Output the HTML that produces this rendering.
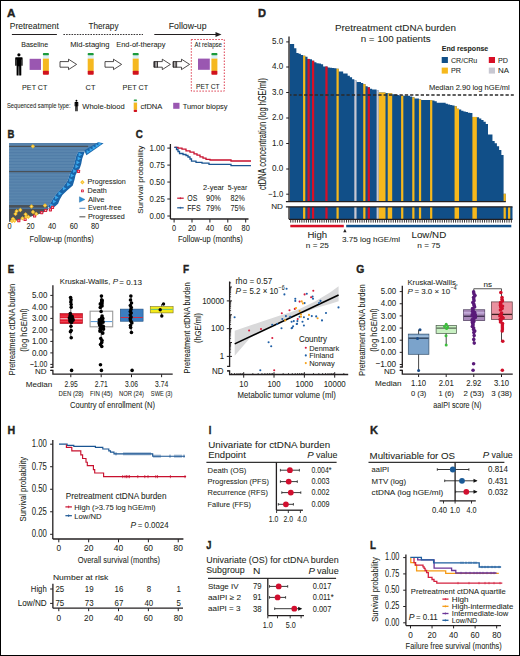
<!DOCTYPE html>
<html><head><meta charset="utf-8"><style>
html,body{margin:0;padding:0;background:#fff;width:520px;height:656px;overflow:hidden}
svg{display:block;font-family:"Liberation Sans",sans-serif}
text{stroke:#231f20;stroke-width:0.06px}
</style></head><body>
<svg width="520" height="656" viewBox="0 0 520 656" fill="#231f20">
<rect x="0" y="0" width="520" height="656" fill="#fff"/>
<text x="7.00" y="16.50" font-size="11.60" textLength="8.40" lengthAdjust="spacingAndGlyphs" font-weight="bold" style="stroke-width:0.4px" >A</text>
<text x="9.75" y="29.00" font-size="8.20" textLength="49.00" lengthAdjust="spacingAndGlyphs" >Pretreatment</text>
<line x1="11.90" y1="34.50" x2="56.90" y2="34.50" stroke="#231f20" stroke-width="1" />
<text x="88.50" y="29.00" font-size="8.20" textLength="30.00" lengthAdjust="spacingAndGlyphs" >Therapy</text>
<line x1="63.40" y1="34.50" x2="143.00" y2="34.50" stroke="#231f20" stroke-width="0.9" stroke-dasharray="1.6,1.1"/>
<text x="168.80" y="29.20" font-size="8.20" textLength="37.70" lengthAdjust="spacingAndGlyphs" >Follow-up</text>
<line x1="154.30" y1="34.50" x2="217.00" y2="34.50" stroke="#231f20" stroke-width="1" />
<path d="M215.5,32 L221.5,34.5 L215.5,37 Z" fill="#231f20" stroke="none" stroke-width="1" />
<text x="21.25" y="46.90" font-size="7.00" textLength="26.90" lengthAdjust="spacingAndGlyphs" >Baseline</text>
<text x="70.20" y="47.00" font-size="7.00" textLength="39.30" lengthAdjust="spacingAndGlyphs" >Mid-staging</text>
<text x="116.20" y="47.30" font-size="7.00" textLength="49.20" lengthAdjust="spacingAndGlyphs" >End-of-therapy</text>
<rect x="191.3" y="39.5" width="33" height="51.6" fill="none" stroke="#d9283c" stroke-width="0.9" stroke-dasharray="1.5,1.5"/>
<text x="194.60" y="47.30" font-size="7.00" textLength="27.40" lengthAdjust="spacingAndGlyphs" >At relapse</text>
<g transform="translate(14.6,53.2) scale(1.0)" fill="#000"><circle cx="4.3" cy="1.6" r="1.6"/><path d="M0.6,4.6 Q0.6,4 1.4,4 L7.2,4 Q8,4 8,4.6 L8,12.2 Q8,12.6 7.4,12.6 Q6.9,12.6 6.9,12.2 L6.9,6.2 L6.7,6.2 L6.7,21.9 Q6.7,22.4 6,22.4 L4.6,22.4 L4.5,13 L4.1,13 L4,22.4 L2.6,22.4 Q2,22.4 2,21.9 L2,6.2 L1.8,6.2 L1.8,12.2 Q1.8,12.6 1.2,12.6 Q0.6,12.6 0.6,12.2 Z"/></g>
<rect x="29.60" y="58.80" width="11.40" height="11.10" fill="#9a57b1" />
<rect x="42.90" y="53.00" width="6.00" height="2.60" fill="#1b9a3c" rx="0.8"/>
<rect x="42.90" y="55.60" width="6.00" height="3.00" fill="#d8eef7" />
<rect x="42.90" y="58.60" width="6.00" height="12.30" fill="#f5b820" />
<rect x="42.90" y="70.80" width="6.00" height="3.90" fill="#d1121c" rx="0.8"/>
<rect x="87.70" y="53.00" width="6.00" height="2.60" fill="#1b9a3c" rx="0.8"/>
<rect x="87.70" y="55.60" width="6.00" height="3.00" fill="#d8eef7" />
<rect x="87.70" y="58.60" width="6.00" height="12.30" fill="#f5b820" />
<rect x="87.70" y="70.80" width="6.00" height="3.90" fill="#d1121c" rx="0.8"/>
<rect x="132.70" y="53.00" width="6.00" height="2.60" fill="#1b9a3c" rx="0.8"/>
<rect x="132.70" y="55.60" width="6.00" height="3.00" fill="#d8eef7" />
<rect x="132.70" y="58.60" width="6.00" height="12.30" fill="#f5b820" />
<rect x="132.70" y="70.80" width="6.00" height="3.90" fill="#d1121c" rx="0.8"/>
<rect x="211.40" y="53.00" width="6.00" height="2.60" fill="#1b9a3c" rx="0.8"/>
<rect x="211.40" y="55.60" width="6.00" height="3.00" fill="#d8eef7" />
<rect x="211.40" y="58.60" width="6.00" height="12.30" fill="#f5b820" />
<rect x="211.40" y="70.80" width="6.00" height="3.90" fill="#d1121c" rx="0.8"/>
<rect x="198.00" y="58.60" width="11.80" height="11.20" fill="#9a57b1" />
<path d="M60.00,61.6 L68.50,61.6 L68.50,59.2 L76.60,64.4 L68.50,69.6 L68.50,67.2 L60.00,67.2 Z" fill="#fff" stroke="#231f20" stroke-width="0.8" />
<path d="M105.00,61.6 L113.50,61.6 L113.50,59.2 L121.60,64.4 L113.50,69.6 L113.50,67.2 L105.00,67.2 Z" fill="#fff" stroke="#231f20" stroke-width="0.8" />
<path d="M153.80,61.6 L162.30,61.6 L162.30,59.2 L170.40,64.4 L162.30,69.6 L162.30,67.2 L153.80,67.2 Z" fill="#fff" stroke="#231f20" stroke-width="0.8" />
<rect x="154.00" y="61.30" width="0.90" height="6.20" fill="#231f20" />
<rect x="155.50" y="61.30" width="0.90" height="6.20" fill="#231f20" />
<rect x="157.00" y="61.30" width="0.90" height="6.20" fill="#231f20" />
<path d="M173.00,61.6 L181.50,61.6 L181.50,59.2 L189.60,64.4 L181.50,69.6 L181.50,67.2 L173.00,67.2 Z" fill="#fff" stroke="#231f20" stroke-width="0.8" />
<rect x="173.20" y="61.30" width="0.90" height="6.20" fill="#231f20" />
<rect x="174.70" y="61.30" width="0.90" height="6.20" fill="#231f20" />
<rect x="176.20" y="61.30" width="0.90" height="6.20" fill="#231f20" />
<text x="22.10" y="89.50" font-size="8.00" textLength="25.30" lengthAdjust="spacingAndGlyphs" >PET CT</text>
<text x="85.60" y="89.50" font-size="8.00" textLength="9.80" lengthAdjust="spacingAndGlyphs" >CT</text>
<text x="122.60" y="89.50" font-size="8.00" textLength="25.50" lengthAdjust="spacingAndGlyphs" >PET CT</text>
<text x="196.00" y="89.30" font-size="8.00" textLength="23.60" lengthAdjust="spacingAndGlyphs" >PET CT</text>
<text x="6.90" y="107.60" font-size="7.00" textLength="63.70" lengthAdjust="spacingAndGlyphs" >Sequenced sample type:</text>
<g transform="translate(74.3,100.0) scale(0.5)" fill="#000"><circle cx="4.3" cy="1.6" r="1.9"/><path d="M0.6,4.6 Q0.6,4 1.4,4 L7.2,4 Q8,4 8,4.6 L8,12.2 Q8,12.6 7.4,12.6 Q6.9,12.6 6.9,12.2 L6.9,6.2 L6.7,6.2 L6.7,21.9 Q6.7,22.4 6,22.4 L4.6,22.4 L4.5,13 L4.1,13 L4,22.4 L2.6,22.4 Q2,22.4 2,21.9 L2,6.2 L1.8,6.2 L1.8,12.2 Q1.8,12.6 1.2,12.6 Q0.6,12.6 0.6,12.2 Z"/></g>
<text x="82.25" y="108.70" font-size="8.00" textLength="42.50" lengthAdjust="spacingAndGlyphs" >Whole-blood</text>
<rect x="133.70" y="99.40" width="3.40" height="1.51" fill="#1b9a3c" rx="0.8"/>
<rect x="133.70" y="100.91" width="3.40" height="1.74" fill="#d8eef7" />
<rect x="133.70" y="102.65" width="3.40" height="7.13" fill="#f5b820" />
<rect x="133.70" y="109.72" width="3.40" height="2.26" fill="#d1121c" rx="0.8"/>
<text x="140.50" y="108.70" font-size="8.00" textLength="21.90" lengthAdjust="spacingAndGlyphs" >cfDNA</text>
<rect x="173.20" y="102.80" width="6.30" height="6.00" fill="#9a57b1" />
<text x="182.70" y="108.50" font-size="8.00" textLength="44.90" lengthAdjust="spacingAndGlyphs" >Tumor biopsy</text>
<text x="258.00" y="16.50" font-size="11.60" textLength="8.00" lengthAdjust="spacingAndGlyphs" font-weight="bold" style="stroke-width:0.4px" >D</text>
<text x="395.50" y="30.60" font-size="9.60" text-anchor="middle" textLength="121.00" lengthAdjust="spacingAndGlyphs" >Pretreatment ctDNA burden</text>
<text x="395.70" y="41.70" font-size="9.60" text-anchor="middle" textLength="70.00" lengthAdjust="spacingAndGlyphs" >n = 100 patients</text>
<text x="441.70" y="51.40" font-size="7.40" textLength="46.60" lengthAdjust="spacingAndGlyphs" font-weight="bold" >End response</text>
<rect x="441.70" y="57.00" width="6.20" height="6.00" fill="#114f88" />
<text x="451.00" y="62.60" font-size="7.60" textLength="26.30" lengthAdjust="spacingAndGlyphs" >CR/CRu</text>
<rect x="488.80" y="57.00" width="6.20" height="6.00" fill="#d80f26" />
<text x="498.00" y="62.60" font-size="7.60" textLength="10.00" lengthAdjust="spacingAndGlyphs" >PD</text>
<rect x="441.70" y="67.60" width="6.20" height="6.00" fill="#f6b81c" />
<text x="451.00" y="73.20" font-size="7.60" textLength="10.00" lengthAdjust="spacingAndGlyphs" >PR</text>
<rect x="488.80" y="67.60" width="6.20" height="6.00" fill="#c8c8d2" />
<text x="498.00" y="73.20" font-size="7.60" textLength="11.00" lengthAdjust="spacingAndGlyphs" >NA</text>
<path d="M289.70,201.60 L289.70,44.00 L291.93,44.00 L291.93,44.00 L294.16,44.00 L294.16,48.20 L296.38,48.20 L296.38,53.00 L298.61,53.00 L298.61,53.80 L300.84,53.80 L300.84,54.90 L303.07,54.90 L303.07,55.70 L305.30,55.70 L305.30,56.80 L307.52,56.80 L307.52,58.90 L309.75,58.90 L309.75,59.20 L311.98,59.20 L311.98,60.70 L314.21,60.70 L314.21,62.20 L316.44,62.20 L316.44,63.20 L318.66,63.20 L318.66,63.40 L320.89,63.40 L320.89,64.20 L323.12,64.20 L323.12,66.50 L325.35,66.50 L325.35,66.50 L327.58,66.50 L327.58,67.60 L329.80,67.60 L329.80,67.80 L332.03,67.80 L332.03,68.00 L334.26,68.00 L334.26,68.30 L336.49,68.30 L336.49,68.70 L338.72,68.70 L338.72,71.50 L340.94,71.50 L340.94,71.50 L343.17,71.50 L343.17,73.50 L345.40,73.50 L345.40,73.50 L347.63,73.50 L347.63,75.80 L349.86,75.80 L349.86,77.30 L352.08,77.30 L352.08,79.20 L354.31,79.20 L354.31,80.40 L356.54,80.40 L356.54,81.90 L358.77,81.90 L358.77,81.90 L361.00,81.90 L361.00,83.10 L363.22,83.10 L363.22,84.10 L365.45,84.10 L365.45,86.20 L367.68,86.20 L367.68,87.30 L369.91,87.30 L369.91,88.80 L372.14,88.80 L372.14,89.60 L374.36,89.60 L374.36,89.60 L376.59,89.60 L376.59,90.40 L378.82,90.40 L378.82,92.50 L381.05,92.50 L381.05,92.50 L383.28,92.50 L383.28,92.50 L385.50,92.50 L385.50,93.10 L387.73,93.10 L387.73,93.30 L389.96,93.30 L389.96,93.30 L392.19,93.30 L392.19,94.20 L394.42,94.20 L394.42,94.50 L396.64,94.50 L396.64,95.00 L398.87,95.00 L398.87,95.40 L401.10,95.40 L401.10,95.60 L403.33,95.60 L403.33,95.80 L405.56,95.80 L405.56,95.80 L407.78,95.80 L407.78,95.80 L410.01,95.80 L410.01,96.50 L412.24,96.50 L412.24,97.30 L414.47,97.30 L414.47,98.50 L416.70,98.50 L416.70,98.50 L418.92,98.50 L418.92,99.60 L421.15,99.60 L421.15,100.00 L423.38,100.00 L423.38,100.00 L425.61,100.00 L425.61,100.00 L427.84,100.00 L427.84,100.00 L430.06,100.00 L430.06,100.20 L432.29,100.20 L432.29,100.40 L434.52,100.40 L434.52,101.20 L436.75,101.20 L436.75,102.70 L438.98,102.70 L438.98,102.70 L441.20,102.70 L441.20,102.70 L443.43,102.70 L443.43,102.70 L445.66,102.70 L445.66,103.80 L447.89,103.80 L447.89,104.40 L450.12,104.40 L450.12,105.00 L452.34,105.00 L452.34,105.50 L454.57,105.50 L454.57,106.20 L456.80,106.20 L456.80,108.80 L459.03,108.80 L459.03,109.60 L461.26,109.60 L461.26,110.80 L463.48,110.80 L463.48,111.50 L465.71,111.50 L465.71,112.10 L467.94,112.10 L467.94,112.70 L470.17,112.70 L470.17,113.00 L472.40,113.00 L472.40,116.90 L474.62,116.90 L474.62,116.90 L476.85,116.90 L476.85,117.30 L479.08,117.30 L479.08,118.40 L481.31,118.40 L481.31,119.90 L483.54,119.90 L483.54,121.80 L485.76,121.80 L485.76,124.10 L487.99,124.10 L487.99,134.40 L490.22,134.40 L490.22,134.40 L492.45,134.40 L492.45,140.90 L494.68,140.90 L494.68,143.20 L496.90,143.20 L496.90,146.30 L499.13,146.30 L499.13,150.10 L501.36,150.10 L501.36,155.00 L503.59,155.00 L503.59,193.80 L505.82,193.80 L505.82,201.60 Z" fill="#114f88" stroke="none" stroke-width="1" />
<rect x="289.70" y="206.80" width="222.80" height="12.50" fill="#114f88" />
<path d="M303.07,201.60 L303.07,55.70 L305.30,55.70 L305.30,201.60 Z" fill="#f6b81c" stroke="none" stroke-width="1" />
<rect x="303.07" y="206.80" width="2.23" height="12.50" fill="#f6b81c" />
<path d="M307.52,201.60 L307.52,58.90 L309.75,58.90 L309.75,201.60 Z" fill="#d80f26" stroke="none" stroke-width="1" />
<rect x="307.52" y="206.80" width="2.23" height="12.50" fill="#d80f26" />
<path d="M311.98,201.60 L311.98,60.70 L314.21,60.70 L314.21,201.60 Z" fill="#d80f26" stroke="none" stroke-width="1" />
<rect x="311.98" y="206.80" width="2.23" height="12.50" fill="#d80f26" />
<path d="M325.35,201.60 L325.35,66.50 L327.58,66.50 L327.58,201.60 Z" fill="#d80f26" stroke="none" stroke-width="1" />
<rect x="325.35" y="206.80" width="2.23" height="12.50" fill="#d80f26" />
<path d="M336.49,201.60 L336.49,68.70 L338.72,68.70 L338.72,201.60 Z" fill="#f6b81c" stroke="none" stroke-width="1" />
<rect x="336.49" y="206.80" width="2.23" height="12.50" fill="#f6b81c" />
<path d="M354.31,201.60 L354.31,80.40 L356.54,80.40 L356.54,201.60 Z" fill="#c8c8d2" stroke="none" stroke-width="1" />
<rect x="354.31" y="206.80" width="2.23" height="12.50" fill="#c8c8d2" />
<path d="M363.22,201.60 L363.22,84.10 L365.45,84.10 L365.45,201.60 Z" fill="#f6b81c" stroke="none" stroke-width="1" />
<rect x="363.22" y="206.80" width="2.23" height="12.50" fill="#f6b81c" />
<path d="M367.68,201.60 L367.68,87.30 L369.91,87.30 L369.91,201.60 Z" fill="#d80f26" stroke="none" stroke-width="1" />
<rect x="367.68" y="206.80" width="2.23" height="12.50" fill="#d80f26" />
<path d="M376.59,201.60 L376.59,90.40 L378.82,90.40 L378.82,201.60 Z" fill="#c8c8d2" stroke="none" stroke-width="1" />
<rect x="376.59" y="206.80" width="2.23" height="12.50" fill="#c8c8d2" />
<path d="M378.82,201.60 L378.82,92.50 L381.05,92.50 L381.05,92.50 L383.28,92.50 L383.28,92.50 L385.50,92.50 L385.50,201.60 Z" fill="#f6b81c" stroke="none" stroke-width="1" />
<rect x="378.82" y="206.80" width="6.68" height="12.50" fill="#f6b81c" />
<path d="M387.73,201.60 L387.73,93.30 L389.96,93.30 L389.96,93.30 L392.19,93.30 L392.19,201.60 Z" fill="#f6b81c" stroke="none" stroke-width="1" />
<rect x="387.73" y="206.80" width="4.46" height="12.50" fill="#f6b81c" />
<path d="M401.10,201.60 L401.10,95.60 L403.33,95.60 L403.33,201.60 Z" fill="#f6b81c" stroke="none" stroke-width="1" />
<rect x="401.10" y="206.80" width="2.23" height="12.50" fill="#f6b81c" />
<path d="M412.24,201.60 L412.24,97.30 L414.47,97.30 L414.47,201.60 Z" fill="#f6b81c" stroke="none" stroke-width="1" />
<rect x="412.24" y="206.80" width="2.23" height="12.50" fill="#f6b81c" />
<path d="M418.92,201.60 L418.92,99.60 L421.15,99.60 L421.15,201.60 Z" fill="#f6b81c" stroke="none" stroke-width="1" />
<rect x="418.92" y="206.80" width="2.23" height="12.50" fill="#f6b81c" />
<path d="M430.06,201.60 L430.06,100.20 L432.29,100.20 L432.29,201.60 Z" fill="#f6b81c" stroke="none" stroke-width="1" />
<rect x="430.06" y="206.80" width="2.23" height="12.50" fill="#f6b81c" />
<path d="M454.57,201.60 L454.57,106.20 L456.80,106.20 L456.80,108.80 L459.03,108.80 L459.03,201.60 Z" fill="#f6b81c" stroke="none" stroke-width="1" />
<rect x="454.57" y="206.80" width="4.46" height="12.50" fill="#f6b81c" />
<path d="M472.40,201.60 L472.40,116.90 L474.62,116.90 L474.62,116.90 L476.85,116.90 L476.85,201.60 Z" fill="#f6b81c" stroke="none" stroke-width="1" />
<rect x="472.40" y="206.80" width="4.46" height="12.50" fill="#f6b81c" />
<path d="M503.59,201.60 L503.59,193.80 L505.82,193.80 L505.82,201.60 Z" fill="#f6b81c" stroke="none" stroke-width="1" />
<rect x="503.59" y="206.80" width="2.23" height="12.50" fill="#f6b81c" />
<rect x="508.04" y="206.80" width="2.23" height="12.50" fill="#f6b81c" />
<line x1="290.00" y1="95.00" x2="513.80" y2="95.00" stroke="#2a2a2a" stroke-width="1.5" stroke-dasharray="3.3,2.0" stroke-dashoffset="1.8"/>
<text x="509.70" y="89.50" font-size="7.60" text-anchor="end" textLength="80.80" lengthAdjust="spacingAndGlyphs" >Median 2.90 log hGE/ml</text>
<line x1="289.00" y1="36.40" x2="289.00" y2="201.60" stroke="#231f20" stroke-width="1.3" />
<line x1="285.90" y1="201.60" x2="505.80" y2="201.60" stroke="#231f20" stroke-width="1.3" />
<line x1="285.90" y1="206.80" x2="512.50" y2="206.80" stroke="#231f20" stroke-width="1.3" />
<line x1="289.00" y1="206.80" x2="289.00" y2="219.30" stroke="#231f20" stroke-width="1.3" />
<line x1="289.00" y1="219.30" x2="512.50" y2="219.30" stroke="#231f20" stroke-width="1.3" />
<line x1="286.20" y1="41.90" x2="289.00" y2="41.90" stroke="#231f20" stroke-width="1" />
<text x="283.20" y="44.30" font-size="8.97" text-anchor="end" textLength="11.20" lengthAdjust="spacingAndGlyphs" >5.0</text>
<line x1="286.20" y1="67.00" x2="289.00" y2="67.00" stroke="#231f20" stroke-width="1" />
<text x="283.20" y="69.40" font-size="8.97" text-anchor="end" textLength="11.20" lengthAdjust="spacingAndGlyphs" >4.0</text>
<line x1="286.20" y1="92.50" x2="289.00" y2="92.50" stroke="#231f20" stroke-width="1" />
<text x="283.20" y="94.90" font-size="8.97" text-anchor="end" textLength="11.20" lengthAdjust="spacingAndGlyphs" >3.0</text>
<line x1="286.20" y1="118.00" x2="289.00" y2="118.00" stroke="#231f20" stroke-width="1" />
<text x="283.20" y="120.40" font-size="8.97" text-anchor="end" textLength="11.20" lengthAdjust="spacingAndGlyphs" >2.0</text>
<line x1="286.20" y1="143.50" x2="289.00" y2="143.50" stroke="#231f20" stroke-width="1" />
<text x="283.20" y="145.90" font-size="8.97" text-anchor="end" textLength="11.20" lengthAdjust="spacingAndGlyphs" >1.0</text>
<line x1="286.20" y1="169.00" x2="289.00" y2="169.00" stroke="#231f20" stroke-width="1" />
<text x="283.20" y="171.40" font-size="8.97" text-anchor="end" textLength="11.20" lengthAdjust="spacingAndGlyphs" >0.0</text>
<line x1="286.20" y1="194.20" x2="289.00" y2="194.20" stroke="#231f20" stroke-width="1" />
<text x="283.20" y="196.60" font-size="8.97" text-anchor="end" textLength="15.10" lengthAdjust="spacingAndGlyphs" >−1.0</text>
<text x="283.00" y="209.00" font-size="7.60" text-anchor="end" textLength="11.80" lengthAdjust="spacingAndGlyphs" >ND</text>
<text x="266.00" y="134.00" font-size="10.20" text-anchor="middle" textLength="112.00" lengthAdjust="spacingAndGlyphs" transform="rotate(-90 266.00 134.00)" >ctDNA concentration (log hGE/ml)</text>
<rect x="290.30" y="219.60" width="0.90" height="3.00" fill="#231f20" />
<rect x="292.53" y="219.60" width="0.90" height="3.00" fill="#231f20" />
<rect x="294.76" y="219.60" width="0.90" height="3.00" fill="#231f20" />
<rect x="296.98" y="219.60" width="0.90" height="3.00" fill="#231f20" />
<rect x="299.21" y="219.60" width="0.90" height="3.00" fill="#231f20" />
<rect x="301.44" y="219.60" width="0.90" height="3.00" fill="#231f20" />
<rect x="303.67" y="219.60" width="0.90" height="3.00" fill="#231f20" />
<rect x="305.90" y="219.60" width="0.90" height="3.00" fill="#231f20" />
<rect x="308.12" y="219.60" width="0.90" height="3.00" fill="#231f20" />
<rect x="310.35" y="219.60" width="0.90" height="3.00" fill="#231f20" />
<rect x="312.58" y="219.60" width="0.90" height="3.00" fill="#231f20" />
<rect x="314.81" y="219.60" width="0.90" height="3.00" fill="#231f20" />
<rect x="317.04" y="219.60" width="0.90" height="3.00" fill="#231f20" />
<rect x="319.26" y="219.60" width="0.90" height="3.00" fill="#231f20" />
<rect x="321.49" y="219.60" width="0.90" height="3.00" fill="#231f20" />
<rect x="323.72" y="219.60" width="0.90" height="3.00" fill="#231f20" />
<rect x="325.95" y="219.60" width="0.90" height="3.00" fill="#231f20" />
<rect x="328.18" y="219.60" width="0.90" height="3.00" fill="#231f20" />
<rect x="330.40" y="219.60" width="0.90" height="3.00" fill="#231f20" />
<rect x="332.63" y="219.60" width="0.90" height="3.00" fill="#231f20" />
<rect x="334.86" y="219.60" width="0.90" height="3.00" fill="#231f20" />
<rect x="337.09" y="219.60" width="0.90" height="3.00" fill="#231f20" />
<rect x="339.32" y="219.60" width="0.90" height="3.00" fill="#231f20" />
<rect x="341.54" y="219.60" width="0.90" height="3.00" fill="#231f20" />
<rect x="343.77" y="219.60" width="0.90" height="3.00" fill="#231f20" />
<rect x="346.00" y="219.60" width="0.90" height="3.00" fill="#231f20" />
<rect x="348.23" y="219.60" width="0.90" height="3.00" fill="#231f20" />
<rect x="350.46" y="219.60" width="0.90" height="3.00" fill="#231f20" />
<rect x="352.68" y="219.60" width="0.90" height="3.00" fill="#231f20" />
<rect x="354.91" y="219.60" width="0.90" height="3.00" fill="#231f20" />
<rect x="357.14" y="219.60" width="0.90" height="3.00" fill="#231f20" />
<rect x="359.37" y="219.60" width="0.90" height="3.00" fill="#231f20" />
<rect x="361.60" y="219.60" width="0.90" height="3.00" fill="#231f20" />
<rect x="363.82" y="219.60" width="0.90" height="3.00" fill="#231f20" />
<rect x="366.05" y="219.60" width="0.90" height="3.00" fill="#231f20" />
<rect x="368.28" y="219.60" width="0.90" height="3.00" fill="#231f20" />
<rect x="370.51" y="219.60" width="0.90" height="3.00" fill="#231f20" />
<rect x="372.74" y="219.60" width="0.90" height="3.00" fill="#231f20" />
<rect x="374.96" y="219.60" width="0.90" height="3.00" fill="#231f20" />
<rect x="377.19" y="219.60" width="0.90" height="3.00" fill="#231f20" />
<rect x="379.42" y="219.60" width="0.90" height="3.00" fill="#231f20" />
<rect x="381.65" y="219.60" width="0.90" height="3.00" fill="#231f20" />
<rect x="383.88" y="219.60" width="0.90" height="3.00" fill="#231f20" />
<rect x="386.10" y="219.60" width="0.90" height="3.00" fill="#231f20" />
<rect x="388.33" y="219.60" width="0.90" height="3.00" fill="#231f20" />
<rect x="390.56" y="219.60" width="0.90" height="3.00" fill="#231f20" />
<rect x="392.79" y="219.60" width="0.90" height="3.00" fill="#231f20" />
<rect x="395.02" y="219.60" width="0.90" height="3.00" fill="#231f20" />
<rect x="397.24" y="219.60" width="0.90" height="3.00" fill="#231f20" />
<rect x="399.47" y="219.60" width="0.90" height="3.00" fill="#231f20" />
<rect x="401.70" y="219.60" width="0.90" height="3.00" fill="#231f20" />
<rect x="403.93" y="219.60" width="0.90" height="3.00" fill="#231f20" />
<rect x="406.16" y="219.60" width="0.90" height="3.00" fill="#231f20" />
<rect x="408.38" y="219.60" width="0.90" height="3.00" fill="#231f20" />
<rect x="410.61" y="219.60" width="0.90" height="3.00" fill="#231f20" />
<rect x="412.84" y="219.60" width="0.90" height="3.00" fill="#231f20" />
<rect x="415.07" y="219.60" width="0.90" height="3.00" fill="#231f20" />
<rect x="417.30" y="219.60" width="0.90" height="3.00" fill="#231f20" />
<rect x="419.52" y="219.60" width="0.90" height="3.00" fill="#231f20" />
<rect x="421.75" y="219.60" width="0.90" height="3.00" fill="#231f20" />
<rect x="423.98" y="219.60" width="0.90" height="3.00" fill="#231f20" />
<rect x="426.21" y="219.60" width="0.90" height="3.00" fill="#231f20" />
<rect x="428.44" y="219.60" width="0.90" height="3.00" fill="#231f20" />
<rect x="430.66" y="219.60" width="0.90" height="3.00" fill="#231f20" />
<rect x="432.89" y="219.60" width="0.90" height="3.00" fill="#231f20" />
<rect x="435.12" y="219.60" width="0.90" height="3.00" fill="#231f20" />
<rect x="437.35" y="219.60" width="0.90" height="3.00" fill="#231f20" />
<rect x="439.58" y="219.60" width="0.90" height="3.00" fill="#231f20" />
<rect x="441.80" y="219.60" width="0.90" height="3.00" fill="#231f20" />
<rect x="444.03" y="219.60" width="0.90" height="3.00" fill="#231f20" />
<rect x="446.26" y="219.60" width="0.90" height="3.00" fill="#231f20" />
<rect x="448.49" y="219.60" width="0.90" height="3.00" fill="#231f20" />
<rect x="450.72" y="219.60" width="0.90" height="3.00" fill="#231f20" />
<rect x="452.94" y="219.60" width="0.90" height="3.00" fill="#231f20" />
<rect x="455.17" y="219.60" width="0.90" height="3.00" fill="#231f20" />
<rect x="457.40" y="219.60" width="0.90" height="3.00" fill="#231f20" />
<rect x="459.63" y="219.60" width="0.90" height="3.00" fill="#231f20" />
<rect x="461.86" y="219.60" width="0.90" height="3.00" fill="#231f20" />
<rect x="464.08" y="219.60" width="0.90" height="3.00" fill="#231f20" />
<rect x="466.31" y="219.60" width="0.90" height="3.00" fill="#231f20" />
<rect x="468.54" y="219.60" width="0.90" height="3.00" fill="#231f20" />
<rect x="470.77" y="219.60" width="0.90" height="3.00" fill="#231f20" />
<rect x="473.00" y="219.60" width="0.90" height="3.00" fill="#231f20" />
<rect x="475.22" y="219.60" width="0.90" height="3.00" fill="#231f20" />
<rect x="477.45" y="219.60" width="0.90" height="3.00" fill="#231f20" />
<rect x="479.68" y="219.60" width="0.90" height="3.00" fill="#231f20" />
<rect x="481.91" y="219.60" width="0.90" height="3.00" fill="#231f20" />
<rect x="484.14" y="219.60" width="0.90" height="3.00" fill="#231f20" />
<rect x="486.36" y="219.60" width="0.90" height="3.00" fill="#231f20" />
<rect x="488.59" y="219.60" width="0.90" height="3.00" fill="#231f20" />
<rect x="490.82" y="219.60" width="0.90" height="3.00" fill="#231f20" />
<rect x="493.05" y="219.60" width="0.90" height="3.00" fill="#231f20" />
<rect x="495.28" y="219.60" width="0.90" height="3.00" fill="#231f20" />
<rect x="497.50" y="219.60" width="0.90" height="3.00" fill="#231f20" />
<rect x="499.73" y="219.60" width="0.90" height="3.00" fill="#231f20" />
<rect x="501.96" y="219.60" width="0.90" height="3.00" fill="#231f20" />
<rect x="504.19" y="219.60" width="0.90" height="3.00" fill="#231f20" />
<rect x="506.42" y="219.60" width="0.90" height="3.00" fill="#231f20" />
<rect x="508.64" y="219.60" width="0.90" height="3.00" fill="#231f20" />
<rect x="510.87" y="219.60" width="0.90" height="3.00" fill="#231f20" />
<rect x="290.30" y="224.80" width="53.50" height="2.50" fill="#d80f26" />
<rect x="346.20" y="224.80" width="165.10" height="2.50" fill="#114f88" />
<path d="M343.2,232.3 L344.9,229.0 L346.6,232.3 Z" fill="#231f20" stroke="none" stroke-width="1" />
<text x="317.30" y="237.90" font-size="9.40" text-anchor="middle" textLength="19.70" lengthAdjust="spacingAndGlyphs" >High</text>
<text x="317.30" y="247.50" font-size="8.00" text-anchor="middle" textLength="22.90" lengthAdjust="spacingAndGlyphs" >n = 25</text>
<text x="342.00" y="242.40" font-size="7.60" textLength="58.00" lengthAdjust="spacingAndGlyphs" >3.75 log hGE/ml</text>
<text x="428.85" y="237.90" font-size="9.40" text-anchor="middle" textLength="34.70" lengthAdjust="spacingAndGlyphs" >Low/ND</text>
<text x="428.85" y="247.50" font-size="8.00" text-anchor="middle" textLength="23.10" lengthAdjust="spacingAndGlyphs" >n = 75</text>
<text x="7.50" y="137.60" font-size="11.60" textLength="6.90" lengthAdjust="spacingAndGlyphs" font-weight="bold" style="stroke-width:0.4px" >B</text>
<defs><clipPath id="bclip"><path d="M9.10,143.00 L97.50,143.00 L85.50,151.20 L78.50,151.50 L76.50,155.00 L75.20,160.00 L74.00,165.00 L72.50,169.00 L70.50,172.00 L69.40,175.20 L67.70,180.40 L63.40,186.40 L57.30,192.50 L53.00,198.50 L50.00,203.70 L47.80,206.30 L48.00,210.00 L42.00,213.00 L34.00,215.50 L26.00,218.00 L16.00,220.50 L9.10,221.80 Z"/></clipPath></defs>
<path d="M9.10,143.00 L97.50,143.00 L85.50,151.20 L78.50,151.50 L76.50,155.00 L75.20,160.00 L74.00,165.00 L72.50,169.00 L70.50,172.00 L69.40,175.20 L67.70,180.40 L63.40,186.40 L57.30,192.50 L53.00,198.50 L50.00,203.70 L47.80,206.30 L48.00,210.00 L42.00,213.00 L34.00,215.50 L26.00,218.00 L16.00,220.50 L9.10,221.80 Z" fill="#5a86ae" stroke="none" stroke-width="1" />
<g clip-path="url(#bclip)">
<line x1="9.1" y1="143.80" x2="100" y2="143.80" stroke="#4675a0" stroke-width="0.8" opacity="0.6"/>
<line x1="9.1" y1="146.75" x2="100" y2="146.75" stroke="#4675a0" stroke-width="0.8" opacity="0.6"/>
<line x1="9.1" y1="149.70" x2="100" y2="149.70" stroke="#4675a0" stroke-width="0.8" opacity="0.6"/>
<line x1="9.1" y1="152.65" x2="100" y2="152.65" stroke="#4675a0" stroke-width="0.8" opacity="0.6"/>
<line x1="9.1" y1="155.60" x2="100" y2="155.60" stroke="#4675a0" stroke-width="0.8" opacity="0.6"/>
<line x1="9.1" y1="158.55" x2="100" y2="158.55" stroke="#4675a0" stroke-width="0.8" opacity="0.6"/>
<line x1="9.1" y1="161.50" x2="100" y2="161.50" stroke="#4675a0" stroke-width="0.8" opacity="0.6"/>
<line x1="9.1" y1="164.45" x2="100" y2="164.45" stroke="#4675a0" stroke-width="0.8" opacity="0.6"/>
<line x1="9.1" y1="167.40" x2="100" y2="167.40" stroke="#4675a0" stroke-width="0.8" opacity="0.6"/>
<line x1="9.1" y1="170.35" x2="100" y2="170.35" stroke="#4675a0" stroke-width="0.8" opacity="0.6"/>
<line x1="9.1" y1="173.30" x2="100" y2="173.30" stroke="#4675a0" stroke-width="0.8" opacity="0.6"/>
<line x1="9.1" y1="176.25" x2="100" y2="176.25" stroke="#4675a0" stroke-width="0.8" opacity="0.6"/>
<line x1="9.1" y1="179.20" x2="100" y2="179.20" stroke="#4675a0" stroke-width="0.8" opacity="0.6"/>
<line x1="9.1" y1="182.15" x2="100" y2="182.15" stroke="#4675a0" stroke-width="0.8" opacity="0.6"/>
<line x1="9.1" y1="185.10" x2="100" y2="185.10" stroke="#4675a0" stroke-width="0.8" opacity="0.6"/>
<line x1="9.1" y1="188.05" x2="100" y2="188.05" stroke="#4675a0" stroke-width="0.8" opacity="0.6"/>
<line x1="9.1" y1="191.00" x2="100" y2="191.00" stroke="#4675a0" stroke-width="0.8" opacity="0.6"/>
<line x1="9.1" y1="193.95" x2="100" y2="193.95" stroke="#4675a0" stroke-width="0.8" opacity="0.6"/>
<line x1="9.1" y1="196.90" x2="100" y2="196.90" stroke="#4675a0" stroke-width="0.8" opacity="0.6"/>
<line x1="9.1" y1="199.85" x2="100" y2="199.85" stroke="#4675a0" stroke-width="0.8" opacity="0.6"/>
<line x1="9.1" y1="202.80" x2="100" y2="202.80" stroke="#4675a0" stroke-width="0.8" opacity="0.6"/>
<line x1="9.1" y1="205.75" x2="100" y2="205.75" stroke="#4675a0" stroke-width="0.8" opacity="0.6"/>
<line x1="9.1" y1="208.70" x2="100" y2="208.70" stroke="#4675a0" stroke-width="0.8" opacity="0.6"/>
<line x1="9.1" y1="211.65" x2="100" y2="211.65" stroke="#4675a0" stroke-width="0.8" opacity="0.6"/>
<line x1="9.1" y1="214.60" x2="100" y2="214.60" stroke="#4675a0" stroke-width="0.8" opacity="0.6"/>
<line x1="9.1" y1="217.55" x2="100" y2="217.55" stroke="#4675a0" stroke-width="0.8" opacity="0.6"/>
<line x1="9.1" y1="220.50" x2="100" y2="220.50" stroke="#4675a0" stroke-width="0.8" opacity="0.6"/>
</g>
<line x1="9.10" y1="146.40" x2="88.10" y2="146.40" stroke="#4a5158" stroke-width="1.3" />
<line x1="9.10" y1="171.60" x2="71.30" y2="171.60" stroke="#4a5158" stroke-width="1.3" />
<path d="M9.10,204.90 L44.00,204.90 L47.80,206.30 L48.00,210.00 L42.00,213.00 L34.00,215.50 L26.00,218.00 L16.00,220.50 L9.10,221.80 Z" fill="#4a5158" stroke="none" stroke-width="1" />
<line x1="9.10" y1="208.20" x2="49.40" y2="208.20" stroke="#4f87c0" stroke-width="0.9" />
<path d="M84.30,150.60 L98.00,142.20 L103.60,143.20 L86.40,155.30 Z" fill="#1a64a8" stroke="none" stroke-width="1" />
<path d="M78.50,151.50 L76.50,155.00 L75.20,160.00 L74.00,165.00 L72.50,169.00 L70.50,172.00 L69.40,175.20 L67.70,180.40 L63.40,186.40 L57.30,192.50 L53.00,198.50 L50.00,203.70 L47.80,206.30 L50.50,208.80 L53.80,207.40 L58.10,203.70 L59.80,199.40 L62.40,195.00 L66.80,190.80 L72.80,185.60 L74.60,179.50 L75.50,175.20 L77.30,171.50 L79.80,168.30 L81.20,164.00 L82.20,158.80 L84.80,151.60 Z" fill="#1a64a8" stroke="none" stroke-width="1" />
<path d="M86.60,149.90 L90.10,151.80 L86.60,153.70 Z" fill="#3aa8ec" stroke="none" stroke-width="1" />
<path d="M89.60,147.90 L93.10,149.80 L89.60,151.70 Z" fill="#3aa8ec" stroke="none" stroke-width="1" />
<path d="M92.60,145.90 L96.10,147.80 L92.60,149.70 Z" fill="#3aa8ec" stroke="none" stroke-width="1" />
<path d="M95.60,143.90 L99.10,145.80 L95.60,147.70 Z" fill="#3aa8ec" stroke="none" stroke-width="1" />
<path d="M98.40,142.10 L101.90,144.00 L98.40,145.90 Z" fill="#3aa8ec" stroke="none" stroke-width="1" />
<path d="M78.60,152.60 L82.10,154.50 L78.60,156.40 Z" fill="#3aa8ec" stroke="none" stroke-width="1" />
<path d="M77.60,156.60 L81.10,158.50 L77.60,160.40 Z" fill="#3aa8ec" stroke="none" stroke-width="1" />
<path d="M76.40,160.60 L79.90,162.50 L76.40,164.40 Z" fill="#3aa8ec" stroke="none" stroke-width="1" />
<path d="M75.40,164.60 L78.90,166.50 L75.40,168.40 Z" fill="#3aa8ec" stroke="none" stroke-width="1" />
<path d="M73.10,169.10 L76.60,171.00 L73.10,172.90 Z" fill="#3aa8ec" stroke="none" stroke-width="1" />
<path d="M70.70,173.60 L74.20,175.50 L70.70,177.40 Z" fill="#3aa8ec" stroke="none" stroke-width="1" />
<path d="M69.30,178.10 L72.80,180.00 L69.30,181.90 Z" fill="#3aa8ec" stroke="none" stroke-width="1" />
<path d="M67.10,182.60 L70.60,184.50 L67.10,186.40 Z" fill="#3aa8ec" stroke="none" stroke-width="1" />
<path d="M62.90,186.70 L66.40,188.60 L62.90,190.50 Z" fill="#3aa8ec" stroke="none" stroke-width="1" />
<path d="M58.50,191.60 L62.00,193.50 L58.50,195.40 Z" fill="#3aa8ec" stroke="none" stroke-width="1" />
<path d="M55.10,195.60 L58.60,197.50 L55.10,199.40 Z" fill="#3aa8ec" stroke="none" stroke-width="1" />
<path d="M52.90,199.60 L56.40,201.50 L52.90,203.40 Z" fill="#3aa8ec" stroke="none" stroke-width="1" />
<path d="M50.10,203.40 L53.60,205.30 L50.10,207.20 Z" fill="#3aa8ec" stroke="none" stroke-width="1" />
<rect x="76.90" y="169.70" width="3.20" height="3.20" fill="#d8203c" rx="0.6"/>
<rect x="77.90" y="170.70" width="1.20" height="1.20" fill="#f7b8c4" />
<rect x="50.90" y="205.80" width="3.20" height="3.20" fill="#d8203c" rx="0.6"/>
<rect x="51.90" y="206.80" width="1.20" height="1.20" fill="#f7b8c4" />
<rect x="48.80" y="208.20" width="3.20" height="3.20" fill="#d8203c" rx="0.6"/>
<rect x="49.80" y="209.20" width="1.20" height="1.20" fill="#f7b8c4" />
<rect x="44.00" y="208.90" width="3.20" height="3.20" fill="#d8203c" rx="0.6"/>
<rect x="45.00" y="209.90" width="1.20" height="1.20" fill="#f7b8c4" />
<rect x="40.10" y="211.00" width="3.20" height="3.20" fill="#d8203c" rx="0.6"/>
<rect x="41.10" y="212.00" width="1.20" height="1.20" fill="#f7b8c4" />
<rect x="33.00" y="214.40" width="3.20" height="3.20" fill="#d8203c" rx="0.6"/>
<rect x="34.00" y="215.40" width="1.20" height="1.20" fill="#f7b8c4" />
<rect x="23.50" y="217.80" width="3.20" height="3.20" fill="#d8203c" rx="0.6"/>
<rect x="24.50" y="218.80" width="1.20" height="1.20" fill="#f7b8c4" />
<rect x="17.20" y="219.10" width="3.20" height="3.20" fill="#d8203c" rx="0.6"/>
<rect x="18.20" y="220.10" width="1.20" height="1.20" fill="#f7b8c4" />
<path d="M30.75,146.30 L32.90,144.15 L35.05,146.30 L32.90,148.45 Z" fill="#f7c02a" stroke="none" stroke-width="1" />
<path d="M32.10,146.30 L32.90,145.50 L33.70,146.30 L32.90,147.10 Z" fill="#fde38a" stroke="none" stroke-width="1" />
<path d="M12.35,220.75 L14.50,218.60 L16.65,220.75 L14.50,222.90 Z" fill="#f7c02a" stroke="none" stroke-width="1" />
<path d="M13.70,220.75 L14.50,219.95 L15.30,220.75 L14.50,221.55 Z" fill="#fde38a" stroke="none" stroke-width="1" />
<path d="M10.85,218.80 L13.00,216.65 L15.15,218.80 L13.00,220.95 Z" fill="#f7c02a" stroke="none" stroke-width="1" />
<path d="M12.20,218.80 L13.00,218.00 L13.80,218.80 L13.00,219.60 Z" fill="#fde38a" stroke="none" stroke-width="1" />
<path d="M13.35,213.90 L15.50,211.75 L17.65,213.90 L15.50,216.05 Z" fill="#f7c02a" stroke="none" stroke-width="1" />
<path d="M14.70,213.90 L15.50,213.10 L16.30,213.90 L15.50,214.70 Z" fill="#fde38a" stroke="none" stroke-width="1" />
<path d="M14.45,211.20 L16.60,209.05 L18.75,211.20 L16.60,213.35 Z" fill="#f7c02a" stroke="none" stroke-width="1" />
<path d="M15.80,211.20 L16.60,210.40 L17.40,211.20 L16.60,212.00 Z" fill="#fde38a" stroke="none" stroke-width="1" />
<path d="M18.15,210.00 L20.30,207.85 L22.45,210.00 L20.30,212.15 Z" fill="#f7c02a" stroke="none" stroke-width="1" />
<path d="M19.50,210.00 L20.30,209.20 L21.10,210.00 L20.30,210.80 Z" fill="#fde38a" stroke="none" stroke-width="1" />
<path d="M23.45,214.30 L25.60,212.15 L27.75,214.30 L25.60,216.45 Z" fill="#f7c02a" stroke="none" stroke-width="1" />
<path d="M24.80,214.30 L25.60,213.50 L26.40,214.30 L25.60,215.10 Z" fill="#fde38a" stroke="none" stroke-width="1" />
<path d="M24.05,217.00 L26.20,214.85 L28.35,217.00 L26.20,219.15 Z" fill="#f7c02a" stroke="none" stroke-width="1" />
<path d="M25.40,217.00 L26.20,216.20 L27.00,217.00 L26.20,217.80 Z" fill="#fde38a" stroke="none" stroke-width="1" />
<path d="M20.35,218.30 L22.50,216.15 L24.65,218.30 L22.50,220.45 Z" fill="#f7c02a" stroke="none" stroke-width="1" />
<path d="M21.70,218.30 L22.50,217.50 L23.30,218.30 L22.50,219.10 Z" fill="#fde38a" stroke="none" stroke-width="1" />
<path d="M26.15,216.80 L28.30,214.65 L30.45,216.80 L28.30,218.95 Z" fill="#f7c02a" stroke="none" stroke-width="1" />
<path d="M27.50,216.80 L28.30,216.00 L29.10,216.80 L28.30,217.60 Z" fill="#fde38a" stroke="none" stroke-width="1" />
<path d="M29.35,206.50 L31.50,204.35 L33.65,206.50 L31.50,208.65 Z" fill="#f7c02a" stroke="none" stroke-width="1" />
<path d="M30.70,206.50 L31.50,205.70 L32.30,206.50 L31.50,207.30 Z" fill="#fde38a" stroke="none" stroke-width="1" />
<path d="M30.85,212.00 L33.00,209.85 L35.15,212.00 L33.00,214.15 Z" fill="#f7c02a" stroke="none" stroke-width="1" />
<path d="M32.20,212.00 L33.00,211.20 L33.80,212.00 L33.00,212.80 Z" fill="#fde38a" stroke="none" stroke-width="1" />
<path d="M34.05,213.90 L36.20,211.75 L38.35,213.90 L36.20,216.05 Z" fill="#f7c02a" stroke="none" stroke-width="1" />
<path d="M35.40,213.90 L36.20,213.10 L37.00,213.90 L36.20,214.70 Z" fill="#fde38a" stroke="none" stroke-width="1" />
<path d="M42.85,205.50 L45.00,203.35 L47.15,205.50 L45.00,207.65 Z" fill="#f7c02a" stroke="none" stroke-width="1" />
<path d="M44.20,205.50 L45.00,204.70 L45.80,205.50 L45.00,206.30 Z" fill="#fde38a" stroke="none" stroke-width="1" />
<path d="M9.85,221.00 L12.00,218.85 L14.15,221.00 L12.00,223.15 Z" fill="#f7c02a" stroke="none" stroke-width="1" />
<path d="M11.20,221.00 L12.00,220.20 L12.80,221.00 L12.00,221.80 Z" fill="#fde38a" stroke="none" stroke-width="1" />
<text x="9.50" y="229.10" font-size="8.97" text-anchor="middle" textLength="4.10" lengthAdjust="spacingAndGlyphs" >0</text>
<text x="30.50" y="229.10" font-size="8.97" text-anchor="middle" textLength="8.20" lengthAdjust="spacingAndGlyphs" >20</text>
<text x="52.00" y="229.10" font-size="8.97" text-anchor="middle" textLength="8.20" lengthAdjust="spacingAndGlyphs" >40</text>
<text x="73.75" y="229.10" font-size="8.97" text-anchor="middle" textLength="8.20" lengthAdjust="spacingAndGlyphs" >60</text>
<text x="95.00" y="229.10" font-size="8.97" text-anchor="middle" textLength="8.20" lengthAdjust="spacingAndGlyphs" >80</text>
<text x="61.60" y="241.60" font-size="8.90" text-anchor="middle" textLength="64.20" lengthAdjust="spacingAndGlyphs" >Follow-up (months)</text>
<path d="M80.20,182.20 L82.40,180.00 L84.60,182.20 L82.40,184.40 Z" fill="#f7c02a" stroke="none" stroke-width="1" />
<path d="M81.60,182.20 L82.40,181.40 L83.20,182.20 L82.40,183.00 Z" fill="#fde38a" stroke="none" stroke-width="1" />
<text x="87.50" y="184.40" font-size="7.50" textLength="38.30" lengthAdjust="spacingAndGlyphs" >Progression</text>
<rect x="81.00" y="189.50" width="2.80" height="2.80" fill="#d8203c" rx="0.6"/>
<rect x="81.80" y="190.30" width="1.20" height="1.20" fill="#f7b8c4" />
<text x="87.50" y="193.00" font-size="7.50" textLength="19.20" lengthAdjust="spacingAndGlyphs" >Death</text>
<path d="M79.45,196.75 L84.95,199.50 L79.45,202.25 Z" fill="#2a8fd6" stroke="#1f5f9a" stroke-width="0.4" />
<text x="88.00" y="201.60" font-size="7.50" textLength="16.60" lengthAdjust="spacingAndGlyphs" >Alive</text>
<line x1="79.40" y1="208.30" x2="85.40" y2="208.30" stroke="#4f87c0" stroke-width="1" />
<text x="88.00" y="210.30" font-size="7.50" textLength="33.60" lengthAdjust="spacingAndGlyphs" >Event-free</text>
<line x1="79.40" y1="216.80" x2="85.40" y2="216.80" stroke="#666" stroke-width="1.2" />
<text x="88.00" y="218.90" font-size="7.50" textLength="36.70" lengthAdjust="spacingAndGlyphs" >Progressed</text>
<text x="135.80" y="137.90" font-size="11.60" textLength="7.10" lengthAdjust="spacingAndGlyphs" font-weight="bold" style="stroke-width:0.4px" >C</text>
<line x1="170.40" y1="144.00" x2="170.40" y2="219.00" stroke="#231f20" stroke-width="1.3" />
<line x1="170.40" y1="219.00" x2="248.50" y2="219.00" stroke="#231f20" stroke-width="1.3" />
<line x1="167.30" y1="148.10" x2="170.40" y2="148.10" stroke="#231f20" stroke-width="1" />
<text x="164.80" y="150.70" font-size="8.73" text-anchor="end" textLength="15.20" lengthAdjust="spacingAndGlyphs" >1.00</text>
<line x1="167.30" y1="165.10" x2="170.40" y2="165.10" stroke="#231f20" stroke-width="1" />
<text x="164.80" y="167.70" font-size="8.73" text-anchor="end" textLength="15.20" lengthAdjust="spacingAndGlyphs" >0.75</text>
<line x1="167.30" y1="182.05" x2="170.40" y2="182.05" stroke="#231f20" stroke-width="1" />
<text x="164.80" y="184.65" font-size="8.73" text-anchor="end" textLength="15.20" lengthAdjust="spacingAndGlyphs" >0.50</text>
<line x1="167.30" y1="199.00" x2="170.40" y2="199.00" stroke="#231f20" stroke-width="1" />
<text x="164.80" y="201.60" font-size="8.73" text-anchor="end" textLength="15.20" lengthAdjust="spacingAndGlyphs" >0.25</text>
<line x1="167.30" y1="216.00" x2="170.40" y2="216.00" stroke="#231f20" stroke-width="1" />
<text x="164.80" y="218.60" font-size="8.73" text-anchor="end" textLength="15.20" lengthAdjust="spacingAndGlyphs" >0.00</text>
<line x1="174.10" y1="219.00" x2="174.10" y2="222.50" stroke="#231f20" stroke-width="1" />
<text x="174.10" y="231.30" font-size="8.97" text-anchor="middle" textLength="4.10" lengthAdjust="spacingAndGlyphs" >0</text>
<line x1="192.00" y1="219.00" x2="192.00" y2="222.50" stroke="#231f20" stroke-width="1" />
<text x="192.00" y="231.30" font-size="8.97" text-anchor="middle" textLength="8.20" lengthAdjust="spacingAndGlyphs" >20</text>
<line x1="209.90" y1="219.00" x2="209.90" y2="222.50" stroke="#231f20" stroke-width="1" />
<text x="209.90" y="231.30" font-size="8.97" text-anchor="middle" textLength="8.20" lengthAdjust="spacingAndGlyphs" >40</text>
<line x1="227.80" y1="219.00" x2="227.80" y2="222.50" stroke="#231f20" stroke-width="1" />
<text x="227.80" y="231.30" font-size="8.97" text-anchor="middle" textLength="8.20" lengthAdjust="spacingAndGlyphs" >60</text>
<line x1="245.70" y1="219.00" x2="245.70" y2="222.50" stroke="#231f20" stroke-width="1" />
<text x="245.70" y="231.30" font-size="8.97" text-anchor="middle" textLength="8.20" lengthAdjust="spacingAndGlyphs" >80</text>
<text x="210.40" y="242.00" font-size="8.90" text-anchor="middle" textLength="65.00" lengthAdjust="spacingAndGlyphs" >Follow-up (months)</text>
<text x="142.90" y="179.80" font-size="7.80" text-anchor="middle" textLength="68.00" lengthAdjust="spacingAndGlyphs" transform="rotate(-90 142.90 179.80)" >Survival probability</text>
<path d="M174.40,147.40 L178.00,147.40 L178.00,148.20 L182.00,148.20 L182.00,149.20 L186.00,149.20 L186.00,150.80 L190.00,150.80 L190.00,152.20 L194.00,152.20 L194.00,153.80 L197.00,153.80 L197.00,155.20 L200.00,155.20 L200.00,156.80 L203.00,156.80 L203.00,158.20 L206.00,158.20 L206.00,159.40 L210.00,159.40 L210.00,160.00 L231.00,160.00 L231.00,161.00 L251.00,161.00" fill="none" stroke="#c8102e" stroke-width="1.3" />
<path d="M174.40,147.40 L176.50,147.40 L176.50,149.50 L178.00,149.50 L178.00,151.50 L179.50,151.50 L179.50,153.50 L183.00,153.50 L183.00,154.50 L186.00,154.50 L186.00,155.50 L188.00,155.50 L188.00,157.00 L190.00,157.00 L190.00,159.00 L191.50,159.00 L191.50,161.20 L196.00,161.20 L196.00,162.30 L202.00,162.30 L202.00,163.20 L209.00,163.20 L209.00,164.30 L231.00,164.30 L231.00,165.70 L251.00,165.70" fill="none" stroke="#1a5592" stroke-width="1.3" />
<text x="203.10" y="190.30" font-size="7.30" textLength="21.00" lengthAdjust="spacingAndGlyphs" >2-year</text>
<text x="227.70" y="190.30" font-size="7.30" textLength="19.50" lengthAdjust="spacingAndGlyphs" >5-year</text>
<line x1="177.20" y1="198.20" x2="183.70" y2="198.20" stroke="#c8102e" stroke-width="1.2" />
<text x="187.30" y="201.00" font-size="8.20" textLength="10.10" lengthAdjust="spacingAndGlyphs" >OS</text>
<text x="206.00" y="201.00" font-size="9.68" textLength="14.90" lengthAdjust="spacingAndGlyphs" >90%</text>
<text x="230.60" y="201.00" font-size="9.68" textLength="14.40" lengthAdjust="spacingAndGlyphs" >82%</text>
<line x1="177.20" y1="207.80" x2="183.70" y2="207.80" stroke="#1a5592" stroke-width="1.2" />
<line x1="180.40" y1="206.80" x2="180.40" y2="208.80" stroke="#1a5592" stroke-width="0.7" />
<line x1="180.40" y1="197.20" x2="180.40" y2="199.20" stroke="#c8102e" stroke-width="0.7" />
<text x="187.30" y="210.80" font-size="8.20" textLength="13.30" lengthAdjust="spacingAndGlyphs" >FFS</text>
<text x="206.00" y="210.80" font-size="9.68" textLength="14.90" lengthAdjust="spacingAndGlyphs" >79%</text>
<text x="230.60" y="210.80" font-size="9.68" textLength="14.40" lengthAdjust="spacingAndGlyphs" >75%</text>
<text x="7.80" y="273.10" font-size="11.60" textLength="6.40" lengthAdjust="spacingAndGlyphs" font-weight="bold" style="stroke-width:0.4px" >E</text>
<text x="59.80" y="284.40" font-size="8.00" textLength="50.50" lengthAdjust="spacingAndGlyphs" >Kruskal-Wallis, </text>
<text x="112.75" y="284.40" font-size="8.00" font-style="italic" >P</text>
<text x="119.30" y="284.60" font-size="8.00" textLength="22.60" lengthAdjust="spacingAndGlyphs" >= 0.13</text>
<path d="M52.90,285.30 L52.90,367.30 L50.40,367.30" fill="none" stroke="#231f20" stroke-width="1.3" />
<path d="M50.40,370.40 L52.90,370.40 L52.90,374.20 L172.70,374.20" fill="none" stroke="#231f20" stroke-width="1.3" />
<line x1="50.30" y1="295.40" x2="52.90" y2="295.40" stroke="#231f20" stroke-width="1" />
<text x="47.30" y="298.00" font-size="8.73" text-anchor="end" textLength="15.40" lengthAdjust="spacingAndGlyphs" >5.00</text>
<line x1="50.30" y1="306.90" x2="52.90" y2="306.90" stroke="#231f20" stroke-width="1" />
<text x="47.30" y="309.50" font-size="8.73" text-anchor="end" textLength="15.40" lengthAdjust="spacingAndGlyphs" >4.00</text>
<line x1="50.30" y1="318.40" x2="52.90" y2="318.40" stroke="#231f20" stroke-width="1" />
<text x="47.30" y="321.00" font-size="8.73" text-anchor="end" textLength="15.40" lengthAdjust="spacingAndGlyphs" >3.00</text>
<line x1="50.30" y1="329.90" x2="52.90" y2="329.90" stroke="#231f20" stroke-width="1" />
<text x="47.30" y="332.50" font-size="8.73" text-anchor="end" textLength="15.40" lengthAdjust="spacingAndGlyphs" >2.00</text>
<line x1="50.30" y1="341.40" x2="52.90" y2="341.40" stroke="#231f20" stroke-width="1" />
<text x="47.30" y="344.00" font-size="8.73" text-anchor="end" textLength="15.40" lengthAdjust="spacingAndGlyphs" >1.00</text>
<line x1="50.30" y1="352.90" x2="52.90" y2="352.90" stroke="#231f20" stroke-width="1" />
<text x="47.30" y="355.50" font-size="8.73" text-anchor="end" textLength="15.40" lengthAdjust="spacingAndGlyphs" >0.00</text>
<line x1="50.30" y1="364.40" x2="52.90" y2="364.40" stroke="#231f20" stroke-width="1" />
<text x="47.30" y="367.00" font-size="8.73" text-anchor="end" textLength="17.50" lengthAdjust="spacingAndGlyphs" >−1.00</text>
<line x1="50.30" y1="370.40" x2="52.90" y2="370.40" stroke="#231f20" stroke-width="1" />
<text x="46.50" y="374.10" font-size="7.60" text-anchor="end" textLength="11.50" lengthAdjust="spacingAndGlyphs" >ND</text>
<text x="14.70" y="329.50" font-size="8.20" text-anchor="middle" textLength="91.50" lengthAdjust="spacingAndGlyphs" transform="rotate(-90 14.70 329.50)" >Pretreatment ctDNA burden</text>
<text x="27.20" y="330.00" font-size="8.20" text-anchor="middle" textLength="43.40" lengthAdjust="spacingAndGlyphs" transform="rotate(-90 27.20 330.00)" >(log hGE/ml)</text>
<line x1="70.80" y1="297.30" x2="70.80" y2="337.70" stroke="#555" stroke-width="0.9" />
<rect x="60.00" y="313.40" width="22.70" height="10.30" fill="#e51b2e" stroke="#9c1020" stroke-width="0.5"/>
<rect x="60.30" y="318.00" width="22.10" height="1.40" fill="#f2a9b2" />
<rect x="60.30" y="315.80" width="22.10" height="0.60" fill="#ee5a68" />
<rect x="60.30" y="321.00" width="22.10" height="0.60" fill="#ee5a68" />
<circle cx="70.58" cy="297.50" r="1.80" fill="#000" />
<circle cx="71.07" cy="299.80" r="1.80" fill="#000" />
<circle cx="70.79" cy="302.00" r="1.80" fill="#000" />
<circle cx="71.17" cy="304.50" r="1.80" fill="#000" />
<circle cx="71.20" cy="307.20" r="1.80" fill="#000" />
<circle cx="70.30" cy="313.60" r="1.80" fill="#000" />
<circle cx="70.22" cy="315.50" r="1.80" fill="#000" />
<circle cx="71.54" cy="317.00" r="1.80" fill="#000" />
<circle cx="70.61" cy="318.00" r="1.80" fill="#000" />
<circle cx="70.57" cy="319.50" r="1.80" fill="#000" />
<circle cx="71.79" cy="320.50" r="1.80" fill="#000" />
<circle cx="70.95" cy="321.50" r="1.80" fill="#000" />
<circle cx="71.54" cy="322.50" r="1.80" fill="#000" />
<circle cx="70.96" cy="326.30" r="1.80" fill="#000" />
<circle cx="71.22" cy="330.50" r="1.80" fill="#000" />
<circle cx="70.44" cy="331.70" r="1.80" fill="#000" />
<circle cx="71.22" cy="337.70" r="1.80" fill="#000" />
<circle cx="71.59" cy="370.40" r="1.80" fill="#000" />
<circle cx="69.50" cy="318.00" r="1.90" fill="#000" />
<circle cx="72.50" cy="319.00" r="1.90" fill="#000" />
<circle cx="70.00" cy="321.00" r="1.90" fill="#000" />
<circle cx="72.00" cy="316.50" r="1.90" fill="#000" />
<circle cx="73.00" cy="320.00" r="1.90" fill="#000" />
<line x1="101.20" y1="296.10" x2="101.20" y2="347.00" stroke="#444" stroke-width="0.9" />
<rect x="90.10" y="311.20" width="22.60" height="15.60" fill="#fff" stroke="#9a9a9a" stroke-width="1.1"/>
<line x1="90.60" y1="321.60" x2="112.20" y2="321.60" stroke="#4f94d6" stroke-width="1" />
<circle cx="101.45" cy="296.10" r="1.80" fill="#000" />
<circle cx="101.68" cy="300.00" r="1.80" fill="#000" />
<circle cx="101.79" cy="301.50" r="1.80" fill="#000" />
<circle cx="102.08" cy="303.00" r="1.80" fill="#000" />
<circle cx="101.68" cy="304.50" r="1.80" fill="#000" />
<circle cx="102.04" cy="306.00" r="1.80" fill="#000" />
<circle cx="100.26" cy="307.50" r="1.80" fill="#000" />
<circle cx="101.13" cy="311.50" r="1.80" fill="#000" />
<circle cx="102.09" cy="316.00" r="1.80" fill="#000" />
<circle cx="101.50" cy="318.00" r="1.80" fill="#000" />
<circle cx="102.00" cy="319.50" r="1.80" fill="#000" />
<circle cx="100.43" cy="321.00" r="1.80" fill="#000" />
<circle cx="101.14" cy="322.50" r="1.80" fill="#000" />
<circle cx="100.69" cy="324.00" r="1.80" fill="#000" />
<circle cx="101.29" cy="325.50" r="1.80" fill="#000" />
<circle cx="101.35" cy="327.00" r="1.80" fill="#000" />
<circle cx="100.23" cy="328.50" r="1.80" fill="#000" />
<circle cx="100.63" cy="330.00" r="1.80" fill="#000" />
<circle cx="100.76" cy="338.50" r="1.80" fill="#000" />
<circle cx="102.03" cy="340.50" r="1.80" fill="#000" />
<circle cx="101.73" cy="342.50" r="1.80" fill="#000" />
<circle cx="100.52" cy="344.50" r="1.80" fill="#000" />
<circle cx="101.79" cy="346.50" r="1.80" fill="#000" />
<circle cx="100.48" cy="364.70" r="1.80" fill="#000" />
<circle cx="101.43" cy="370.40" r="1.80" fill="#000" />
<circle cx="99.40" cy="320.00" r="1.90" fill="#000" />
<circle cx="103.00" cy="322.00" r="1.90" fill="#000" />
<circle cx="99.70" cy="325.00" r="1.90" fill="#000" />
<circle cx="102.70" cy="318.50" r="1.90" fill="#000" />
<circle cx="103.20" cy="326.50" r="1.90" fill="#000" />
<circle cx="99.20" cy="323.00" r="1.90" fill="#000" />
<circle cx="103.40" cy="329.00" r="1.90" fill="#000" />
<circle cx="100.00" cy="331.00" r="1.90" fill="#000" />
<circle cx="102.70" cy="333.00" r="1.90" fill="#000" />
<circle cx="102.00" cy="300.50" r="1.90" fill="#000" />
<circle cx="100.40" cy="304.00" r="1.90" fill="#000" />
<line x1="131.20" y1="296.00" x2="131.20" y2="332.50" stroke="#444" stroke-width="0.9" />
<rect x="120.30" y="309.10" width="22.80" height="12.15" fill="#3b7dc0" stroke="#1f4f80" stroke-width="0.6"/>
<line x1="120.60" y1="317.50" x2="142.80" y2="317.50" stroke="#c6304a" stroke-width="1" />
<circle cx="130.85" cy="296.00" r="1.80" fill="#000" />
<circle cx="130.50" cy="300.00" r="1.80" fill="#000" />
<circle cx="131.50" cy="303.00" r="1.80" fill="#000" />
<circle cx="130.34" cy="305.50" r="1.80" fill="#000" />
<circle cx="131.27" cy="307.50" r="1.80" fill="#000" />
<circle cx="130.93" cy="309.50" r="1.80" fill="#000" />
<circle cx="130.32" cy="311.50" r="1.80" fill="#000" />
<circle cx="131.21" cy="313.00" r="1.80" fill="#000" />
<circle cx="130.27" cy="315.00" r="1.80" fill="#000" />
<circle cx="131.07" cy="317.00" r="1.80" fill="#000" />
<circle cx="130.34" cy="318.50" r="1.80" fill="#000" />
<circle cx="130.38" cy="320.00" r="1.80" fill="#000" />
<circle cx="131.05" cy="321.50" r="1.80" fill="#000" />
<circle cx="131.85" cy="323.00" r="1.80" fill="#000" />
<circle cx="130.45" cy="325.50" r="1.80" fill="#000" />
<circle cx="130.65" cy="327.50" r="1.80" fill="#000" />
<circle cx="131.45" cy="332.50" r="1.80" fill="#000" />
<circle cx="132.10" cy="370.40" r="1.80" fill="#000" />
<line x1="161.60" y1="304.00" x2="161.60" y2="316.00" stroke="#444" stroke-width="0.9" />
<rect x="150.25" y="306.60" width="22.85" height="6.30" fill="#f4ea1a" stroke="#7a7420" stroke-width="0.6"/>
<line x1="150.60" y1="309.40" x2="172.80" y2="309.40" stroke="#4fb98a" stroke-width="0.9" />
<circle cx="163.50" cy="304.00" r="1.70" fill="#000" />
<circle cx="160.20" cy="309.75" r="1.70" fill="#000" />
<circle cx="161.80" cy="316.00" r="1.70" fill="#000" />
<line x1="70.80" y1="374.20" x2="70.80" y2="377.20" stroke="#231f20" stroke-width="1" />
<line x1="101.20" y1="374.20" x2="101.20" y2="377.20" stroke="#231f20" stroke-width="1" />
<line x1="131.50" y1="374.20" x2="131.50" y2="377.20" stroke="#231f20" stroke-width="1" />
<line x1="161.60" y1="374.20" x2="161.60" y2="377.20" stroke="#231f20" stroke-width="1" />
<text x="52.30" y="386.50" font-size="8.00" text-anchor="end" textLength="26.50" lengthAdjust="spacingAndGlyphs" >Median</text>
<text x="71.10" y="386.50" font-size="9.44" text-anchor="middle" textLength="13.10" lengthAdjust="spacingAndGlyphs" >2.95</text>
<text x="71.10" y="396.00" font-size="7.60" text-anchor="middle" textLength="25.00" lengthAdjust="spacingAndGlyphs" >DEN (28)</text>
<text x="101.20" y="386.50" font-size="9.44" text-anchor="middle" textLength="13.10" lengthAdjust="spacingAndGlyphs" >2.71</text>
<text x="101.20" y="396.00" font-size="7.60" text-anchor="middle" textLength="22.50" lengthAdjust="spacingAndGlyphs" >FIN (45)</text>
<text x="131.50" y="386.50" font-size="9.44" text-anchor="middle" textLength="13.10" lengthAdjust="spacingAndGlyphs" >3.06</text>
<text x="131.50" y="396.00" font-size="7.60" text-anchor="middle" textLength="25.00" lengthAdjust="spacingAndGlyphs" >NOR (24)</text>
<text x="161.60" y="386.50" font-size="9.44" text-anchor="middle" textLength="13.10" lengthAdjust="spacingAndGlyphs" >3.74</text>
<text x="161.60" y="396.00" font-size="7.60" text-anchor="middle" textLength="21.50" lengthAdjust="spacingAndGlyphs" >SWE (3)</text>
<text x="112.50" y="408.20" font-size="8.60" text-anchor="middle" textLength="85.00" lengthAdjust="spacingAndGlyphs" >Country of enrollment (N)</text>
<text x="183.10" y="273.00" font-size="11.60" textLength="6.10" lengthAdjust="spacingAndGlyphs" font-weight="bold" style="stroke-width:0.4px" >F</text>
<path d="M229.60,281.50 L229.60,366.40 L227.10,366.40" fill="none" stroke="#231f20" stroke-width="1.3" />
<path d="M227.10,370.90 L229.60,370.90 L229.60,374.50 L348.20,374.50" fill="none" stroke="#231f20" stroke-width="1.3" />
<line x1="227.10" y1="370.90" x2="229.60" y2="370.90" stroke="#231f20" stroke-width="1" />
<line x1="226.80" y1="356.40" x2="232.00" y2="356.40" stroke="#231f20" stroke-width="1.0" />
<line x1="229.60" y1="352.22" x2="231.10" y2="352.22" stroke="#231f20" stroke-width="0.8" />
<line x1="229.60" y1="349.78" x2="231.10" y2="349.78" stroke="#231f20" stroke-width="0.8" />
<line x1="229.60" y1="348.05" x2="231.10" y2="348.05" stroke="#231f20" stroke-width="0.8" />
<line x1="229.60" y1="346.70" x2="231.10" y2="346.70" stroke="#231f20" stroke-width="0.8" />
<line x1="229.60" y1="345.60" x2="231.10" y2="345.60" stroke="#231f20" stroke-width="0.8" />
<line x1="229.60" y1="344.67" x2="231.10" y2="344.67" stroke="#231f20" stroke-width="0.8" />
<line x1="229.60" y1="343.87" x2="231.10" y2="343.87" stroke="#231f20" stroke-width="0.8" />
<line x1="229.60" y1="343.16" x2="231.10" y2="343.16" stroke="#231f20" stroke-width="0.8" />
<line x1="229.60" y1="342.52" x2="232.00" y2="342.52" stroke="#231f20" stroke-width="1.0" />
<line x1="229.60" y1="338.35" x2="231.10" y2="338.35" stroke="#231f20" stroke-width="0.8" />
<line x1="229.60" y1="335.90" x2="231.10" y2="335.90" stroke="#231f20" stroke-width="0.8" />
<line x1="229.60" y1="334.17" x2="231.10" y2="334.17" stroke="#231f20" stroke-width="0.8" />
<line x1="229.60" y1="332.83" x2="231.10" y2="332.83" stroke="#231f20" stroke-width="0.8" />
<line x1="229.60" y1="331.73" x2="231.10" y2="331.73" stroke="#231f20" stroke-width="0.8" />
<line x1="229.60" y1="330.80" x2="231.10" y2="330.80" stroke="#231f20" stroke-width="0.8" />
<line x1="229.60" y1="329.99" x2="231.10" y2="329.99" stroke="#231f20" stroke-width="0.8" />
<line x1="229.60" y1="329.28" x2="231.10" y2="329.28" stroke="#231f20" stroke-width="0.8" />
<line x1="226.80" y1="328.65" x2="232.00" y2="328.65" stroke="#231f20" stroke-width="1.0" />
<line x1="229.60" y1="324.47" x2="231.10" y2="324.47" stroke="#231f20" stroke-width="0.8" />
<line x1="229.60" y1="322.03" x2="231.10" y2="322.03" stroke="#231f20" stroke-width="0.8" />
<line x1="229.60" y1="320.30" x2="231.10" y2="320.30" stroke="#231f20" stroke-width="0.8" />
<line x1="229.60" y1="318.95" x2="231.10" y2="318.95" stroke="#231f20" stroke-width="0.8" />
<line x1="229.60" y1="317.85" x2="231.10" y2="317.85" stroke="#231f20" stroke-width="0.8" />
<line x1="229.60" y1="316.92" x2="231.10" y2="316.92" stroke="#231f20" stroke-width="0.8" />
<line x1="229.60" y1="316.12" x2="231.10" y2="316.12" stroke="#231f20" stroke-width="0.8" />
<line x1="229.60" y1="315.41" x2="231.10" y2="315.41" stroke="#231f20" stroke-width="0.8" />
<line x1="229.60" y1="314.77" x2="232.00" y2="314.77" stroke="#231f20" stroke-width="1.0" />
<line x1="229.60" y1="310.60" x2="231.10" y2="310.60" stroke="#231f20" stroke-width="0.8" />
<line x1="229.60" y1="308.15" x2="231.10" y2="308.15" stroke="#231f20" stroke-width="0.8" />
<line x1="229.60" y1="306.42" x2="231.10" y2="306.42" stroke="#231f20" stroke-width="0.8" />
<line x1="229.60" y1="305.08" x2="231.10" y2="305.08" stroke="#231f20" stroke-width="0.8" />
<line x1="229.60" y1="303.98" x2="231.10" y2="303.98" stroke="#231f20" stroke-width="0.8" />
<line x1="229.60" y1="303.05" x2="231.10" y2="303.05" stroke="#231f20" stroke-width="0.8" />
<line x1="229.60" y1="302.24" x2="231.10" y2="302.24" stroke="#231f20" stroke-width="0.8" />
<line x1="229.60" y1="301.53" x2="231.10" y2="301.53" stroke="#231f20" stroke-width="0.8" />
<line x1="226.80" y1="300.90" x2="232.00" y2="300.90" stroke="#231f20" stroke-width="1.0" />
<line x1="229.60" y1="296.72" x2="231.10" y2="296.72" stroke="#231f20" stroke-width="0.8" />
<line x1="229.60" y1="294.28" x2="231.10" y2="294.28" stroke="#231f20" stroke-width="0.8" />
<line x1="229.60" y1="292.55" x2="231.10" y2="292.55" stroke="#231f20" stroke-width="0.8" />
<line x1="229.60" y1="291.20" x2="231.10" y2="291.20" stroke="#231f20" stroke-width="0.8" />
<line x1="229.60" y1="290.10" x2="231.10" y2="290.10" stroke="#231f20" stroke-width="0.8" />
<line x1="229.60" y1="289.17" x2="231.10" y2="289.17" stroke="#231f20" stroke-width="0.8" />
<line x1="229.60" y1="288.37" x2="231.10" y2="288.37" stroke="#231f20" stroke-width="0.8" />
<line x1="229.60" y1="287.66" x2="231.10" y2="287.66" stroke="#231f20" stroke-width="0.8" />
<line x1="229.60" y1="287.02" x2="232.00" y2="287.02" stroke="#231f20" stroke-width="1.0" />
<line x1="229.60" y1="282.85" x2="231.10" y2="282.85" stroke="#231f20" stroke-width="0.8" />
<text x="224.20" y="303.70" font-size="9.68" text-anchor="end" textLength="22.00" lengthAdjust="spacingAndGlyphs" >10000</text>
<text x="224.20" y="331.45" font-size="9.68" text-anchor="end" textLength="13.20" lengthAdjust="spacingAndGlyphs" >100</text>
<text x="224.20" y="359.20" font-size="9.68" text-anchor="end" textLength="4.40" lengthAdjust="spacingAndGlyphs" >1</text>
<text x="223.60" y="373.80" font-size="8.20" text-anchor="end" textLength="11.50" lengthAdjust="spacingAndGlyphs" >ND</text>
<line x1="231.63" y1="374.50" x2="231.63" y2="373.00" stroke="#231f20" stroke-width="0.8" />
<line x1="234.57" y1="374.50" x2="234.57" y2="373.00" stroke="#231f20" stroke-width="0.8" />
<line x1="236.97" y1="374.50" x2="236.97" y2="373.00" stroke="#231f20" stroke-width="0.8" />
<line x1="239.00" y1="374.50" x2="239.00" y2="373.00" stroke="#231f20" stroke-width="0.8" />
<line x1="240.76" y1="374.50" x2="240.76" y2="373.00" stroke="#231f20" stroke-width="0.8" />
<line x1="242.31" y1="374.50" x2="242.31" y2="373.00" stroke="#231f20" stroke-width="0.8" />
<line x1="243.70" y1="372.20" x2="243.70" y2="377.70" stroke="#231f20" stroke-width="1" />
<line x1="252.83" y1="374.50" x2="252.83" y2="373.00" stroke="#231f20" stroke-width="0.8" />
<line x1="258.17" y1="374.50" x2="258.17" y2="373.00" stroke="#231f20" stroke-width="0.8" />
<line x1="261.96" y1="374.50" x2="261.96" y2="373.00" stroke="#231f20" stroke-width="0.8" />
<line x1="264.90" y1="374.50" x2="264.90" y2="373.00" stroke="#231f20" stroke-width="0.8" />
<line x1="267.30" y1="374.50" x2="267.30" y2="373.00" stroke="#231f20" stroke-width="0.8" />
<line x1="269.33" y1="374.50" x2="269.33" y2="373.00" stroke="#231f20" stroke-width="0.8" />
<line x1="271.09" y1="374.50" x2="271.09" y2="373.00" stroke="#231f20" stroke-width="0.8" />
<line x1="272.64" y1="374.50" x2="272.64" y2="373.00" stroke="#231f20" stroke-width="0.8" />
<line x1="274.03" y1="372.20" x2="274.03" y2="377.70" stroke="#231f20" stroke-width="1" />
<line x1="283.16" y1="374.50" x2="283.16" y2="373.00" stroke="#231f20" stroke-width="0.8" />
<line x1="288.50" y1="374.50" x2="288.50" y2="373.00" stroke="#231f20" stroke-width="0.8" />
<line x1="292.29" y1="374.50" x2="292.29" y2="373.00" stroke="#231f20" stroke-width="0.8" />
<line x1="295.23" y1="374.50" x2="295.23" y2="373.00" stroke="#231f20" stroke-width="0.8" />
<line x1="297.63" y1="374.50" x2="297.63" y2="373.00" stroke="#231f20" stroke-width="0.8" />
<line x1="299.66" y1="374.50" x2="299.66" y2="373.00" stroke="#231f20" stroke-width="0.8" />
<line x1="301.42" y1="374.50" x2="301.42" y2="373.00" stroke="#231f20" stroke-width="0.8" />
<line x1="302.97" y1="374.50" x2="302.97" y2="373.00" stroke="#231f20" stroke-width="0.8" />
<line x1="304.36" y1="372.20" x2="304.36" y2="377.70" stroke="#231f20" stroke-width="1" />
<line x1="313.49" y1="374.50" x2="313.49" y2="373.00" stroke="#231f20" stroke-width="0.8" />
<line x1="318.83" y1="374.50" x2="318.83" y2="373.00" stroke="#231f20" stroke-width="0.8" />
<line x1="322.62" y1="374.50" x2="322.62" y2="373.00" stroke="#231f20" stroke-width="0.8" />
<line x1="325.56" y1="374.50" x2="325.56" y2="373.00" stroke="#231f20" stroke-width="0.8" />
<line x1="327.96" y1="374.50" x2="327.96" y2="373.00" stroke="#231f20" stroke-width="0.8" />
<line x1="329.99" y1="374.50" x2="329.99" y2="373.00" stroke="#231f20" stroke-width="0.8" />
<line x1="331.75" y1="374.50" x2="331.75" y2="373.00" stroke="#231f20" stroke-width="0.8" />
<line x1="333.30" y1="374.50" x2="333.30" y2="373.00" stroke="#231f20" stroke-width="0.8" />
<line x1="334.69" y1="372.20" x2="334.69" y2="377.70" stroke="#231f20" stroke-width="1" />
<line x1="343.82" y1="374.50" x2="343.82" y2="373.00" stroke="#231f20" stroke-width="0.8" />
<text x="243.70" y="387.00" font-size="9.68" text-anchor="middle" textLength="8.80" lengthAdjust="spacingAndGlyphs" >10</text>
<text x="274.03" y="387.00" font-size="9.68" text-anchor="middle" textLength="13.20" lengthAdjust="spacingAndGlyphs" >100</text>
<text x="304.36" y="387.00" font-size="9.68" text-anchor="middle" textLength="17.60" lengthAdjust="spacingAndGlyphs" >1000</text>
<text x="334.69" y="387.00" font-size="9.68" text-anchor="middle" textLength="22.00" lengthAdjust="spacingAndGlyphs" >10000</text>
<text x="286.60" y="398.00" font-size="8.60" text-anchor="middle" textLength="98.30" lengthAdjust="spacingAndGlyphs" >Metabolic tumor volume (ml)</text>
<text x="190.00" y="327.90" font-size="8.20" text-anchor="middle" textLength="91.00" lengthAdjust="spacingAndGlyphs" transform="rotate(-90 190.00 327.90)" >Pretreatment ctDNA burden</text>
<text x="201.50" y="327.90" font-size="8.20" text-anchor="middle" textLength="30.00" lengthAdjust="spacingAndGlyphs" transform="rotate(-90 201.50 327.90)" >(hGE/ml)</text>
<path d="M234.70,330.80 L250.00,325.50 L265.00,320.50 L280.00,315.50 L290.00,312.60 L300.00,308.80 L315.00,301.50 L330.00,292.50 L338.60,286.20 L338.60,301.20 L330.00,304.00 L315.00,308.30 L300.00,314.20 L290.00,318.20 L280.00,322.60 L265.00,329.50 L250.00,338.00 L234.70,355.70 Z" fill="#d9d9da" stroke="none" stroke-width="1" />
<line x1="234.70" y1="343.90" x2="338.60" y2="295.00" stroke="#000" stroke-width="1.6" />
<circle cx="286.60" cy="288.70" r="1.05" fill="#1f5fa6" />
<circle cx="284.40" cy="294.40" r="1.05" fill="#1f5fa6" />
<circle cx="306.80" cy="293.70" r="1.05" fill="#1f5fa6" />
<circle cx="312.60" cy="296.60" r="1.05" fill="#1f5fa6" />
<circle cx="313.00" cy="298.80" r="1.05" fill="#1f5fa6" />
<circle cx="295.30" cy="298.80" r="1.05" fill="#1f5fa6" />
<circle cx="295.30" cy="300.90" r="1.05" fill="#1f5fa6" />
<circle cx="304.60" cy="303.10" r="1.05" fill="#1f5fa6" />
<circle cx="320.50" cy="300.90" r="1.05" fill="#1f5fa6" />
<circle cx="338.50" cy="307.40" r="1.05" fill="#1f5fa6" />
<circle cx="285.90" cy="316.10" r="1.05" fill="#1f5fa6" />
<circle cx="290.20" cy="316.80" r="1.05" fill="#1f5fa6" />
<circle cx="282.30" cy="319.00" r="1.05" fill="#1f5fa6" />
<circle cx="299.60" cy="316.80" r="1.05" fill="#1f5fa6" />
<circle cx="303.90" cy="317.20" r="1.05" fill="#1f5fa6" />
<circle cx="311.80" cy="316.10" r="1.05" fill="#1f5fa6" />
<circle cx="316.20" cy="316.40" r="1.05" fill="#1f5fa6" />
<circle cx="322.00" cy="320.40" r="1.05" fill="#1f5fa6" />
<circle cx="291.60" cy="321.80" r="1.05" fill="#1f5fa6" />
<circle cx="293.80" cy="321.10" r="1.05" fill="#1f5fa6" />
<circle cx="297.40" cy="321.10" r="1.05" fill="#1f5fa6" />
<circle cx="302.50" cy="321.80" r="1.05" fill="#1f5fa6" />
<circle cx="296.70" cy="324.00" r="1.05" fill="#1f5fa6" />
<circle cx="293.10" cy="326.20" r="1.05" fill="#1f5fa6" />
<circle cx="303.90" cy="325.50" r="1.05" fill="#1f5fa6" />
<circle cx="281.50" cy="328.30" r="1.05" fill="#1f5fa6" />
<circle cx="291.60" cy="328.30" r="1.05" fill="#1f5fa6" />
<circle cx="272.20" cy="324.70" r="1.05" fill="#1f5fa6" />
<circle cx="277.20" cy="324.00" r="1.05" fill="#1f5fa6" />
<circle cx="234.60" cy="317.30" r="1.05" fill="#1f5fa6" />
<circle cx="268.60" cy="342.20" r="1.05" fill="#1f5fa6" />
<circle cx="271.20" cy="346.20" r="1.05" fill="#1f5fa6" />
<circle cx="260.30" cy="370.30" r="1.05" fill="#1f5fa6" />
<circle cx="292.20" cy="327.70" r="1.05" fill="#1f5fa6" />
<circle cx="297.00" cy="323.80" r="1.05" fill="#1f5fa6" />
<circle cx="326.00" cy="313.00" r="1.05" fill="#1f5fa6" />
<circle cx="319.00" cy="303.00" r="1.05" fill="#1f5fa6" />
<circle cx="308.00" cy="319.00" r="1.05" fill="#1f5fa6" />
<circle cx="313.30" cy="290.80" r="1.05" fill="#d81b3c" />
<circle cx="304.60" cy="294.40" r="1.05" fill="#d81b3c" />
<circle cx="311.10" cy="297.30" r="1.05" fill="#d81b3c" />
<circle cx="299.60" cy="301.60" r="1.05" fill="#d81b3c" />
<circle cx="289.50" cy="310.30" r="1.05" fill="#d81b3c" />
<circle cx="294.80" cy="308.90" r="1.05" fill="#d81b3c" />
<circle cx="281.80" cy="313.20" r="1.05" fill="#d81b3c" />
<circle cx="297.70" cy="319.00" r="1.05" fill="#d81b3c" />
<circle cx="249.10" cy="330.50" r="1.05" fill="#d81b3c" />
<circle cx="261.00" cy="329.00" r="1.05" fill="#d81b3c" />
<circle cx="272.30" cy="338.00" r="1.05" fill="#d81b3c" />
<circle cx="274.20" cy="370.30" r="1.05" fill="#d81b3c" />
<circle cx="301.70" cy="301.40" r="1.05" fill="#f5a21a" />
<circle cx="302.90" cy="303.40" r="1.05" fill="#f5a21a" />
<circle cx="296.00" cy="308.10" r="1.05" fill="#f5a21a" />
<circle cx="299.60" cy="311.00" r="1.05" fill="#f5a21a" />
<circle cx="301.00" cy="314.60" r="1.05" fill="#f5a21a" />
<circle cx="301.00" cy="316.80" r="1.05" fill="#f5a21a" />
<circle cx="309.00" cy="314.90" r="1.05" fill="#f5a21a" />
<circle cx="317.60" cy="318.20" r="1.05" fill="#f5a21a" />
<circle cx="285.20" cy="320.40" r="1.05" fill="#f5a21a" />
<text x="235.40" y="284.30" font-size="8.20" textLength="36.90" lengthAdjust="spacingAndGlyphs" >rho = 0.57</text>
<text x="235.40" y="293.60" font-size="8.20" font-style="italic" >P</text>
<text x="242.60" y="293.60" font-size="8.20" textLength="35.70" lengthAdjust="spacingAndGlyphs" >= 5.2 × 10</text>
<text x="278.60" y="289.80" font-size="6.61" textLength="6.00" lengthAdjust="spacingAndGlyphs" >−6</text>
<text x="298.90" y="341.50" font-size="8.40" textLength="28.00" lengthAdjust="spacingAndGlyphs" >Country</text>
<circle cx="305.80" cy="347.70" r="1.05" fill="#d81b3c" />
<text x="309.20" y="350.50" font-size="8.00" textLength="30.00" lengthAdjust="spacingAndGlyphs" >Denmark</text>
<circle cx="305.80" cy="355.40" r="1.05" fill="#1f5fa6" />
<text x="309.20" y="358.20" font-size="8.00" textLength="24.50" lengthAdjust="spacingAndGlyphs" >Finland</text>
<circle cx="305.80" cy="363.10" r="1.05" fill="#f5a21a" />
<text x="309.20" y="365.90" font-size="8.00" textLength="25.50" lengthAdjust="spacingAndGlyphs" >Norway</text>
<text x="356.20" y="273.20" font-size="11.60" textLength="8.10" lengthAdjust="spacingAndGlyphs" font-weight="bold" style="stroke-width:0.4px" >G</text>
<path d="M402.30,285.80 L402.30,367.00 L399.80,367.00" fill="none" stroke="#231f20" stroke-width="1.3" />
<path d="M399.80,370.30 L402.30,370.30 L402.30,374.20 L512.75,374.20" fill="none" stroke="#231f20" stroke-width="1.3" />
<line x1="399.70" y1="291.60" x2="402.30" y2="291.60" stroke="#231f20" stroke-width="1" />
<text x="396.20" y="294.30" font-size="9.44" text-anchor="end" textLength="15.40" lengthAdjust="spacingAndGlyphs" >5.00</text>
<line x1="399.70" y1="303.75" x2="402.30" y2="303.75" stroke="#231f20" stroke-width="1" />
<text x="396.20" y="306.45" font-size="9.44" text-anchor="end" textLength="15.40" lengthAdjust="spacingAndGlyphs" >4.00</text>
<line x1="399.70" y1="315.90" x2="402.30" y2="315.90" stroke="#231f20" stroke-width="1" />
<text x="396.20" y="318.60" font-size="9.44" text-anchor="end" textLength="15.40" lengthAdjust="spacingAndGlyphs" >3.00</text>
<line x1="399.70" y1="328.05" x2="402.30" y2="328.05" stroke="#231f20" stroke-width="1" />
<text x="396.20" y="330.75" font-size="9.44" text-anchor="end" textLength="15.40" lengthAdjust="spacingAndGlyphs" >2.00</text>
<line x1="399.70" y1="340.20" x2="402.30" y2="340.20" stroke="#231f20" stroke-width="1" />
<text x="396.20" y="342.90" font-size="9.44" text-anchor="end" textLength="15.40" lengthAdjust="spacingAndGlyphs" >1.00</text>
<line x1="399.70" y1="352.35" x2="402.30" y2="352.35" stroke="#231f20" stroke-width="1" />
<text x="396.20" y="355.05" font-size="9.44" text-anchor="end" textLength="15.40" lengthAdjust="spacingAndGlyphs" >0.00</text>
<line x1="399.70" y1="364.50" x2="402.30" y2="364.50" stroke="#231f20" stroke-width="1" />
<text x="396.20" y="367.20" font-size="9.44" text-anchor="end" textLength="20.80" lengthAdjust="spacingAndGlyphs" >−1.00</text>
<line x1="399.70" y1="370.30" x2="402.30" y2="370.30" stroke="#231f20" stroke-width="1" />
<text x="395.40" y="373.80" font-size="8.00" text-anchor="end" textLength="11.50" lengthAdjust="spacingAndGlyphs" >ND</text>
<text x="364.50" y="330.00" font-size="8.20" text-anchor="middle" textLength="91.50" lengthAdjust="spacingAndGlyphs" transform="rotate(-90 364.50 330.00)" >Pretreatment ctDNA burden</text>
<text x="376.50" y="330.00" font-size="8.20" text-anchor="middle" textLength="43.40" lengthAdjust="spacingAndGlyphs" transform="rotate(-90 376.50 330.00)" >(log hGE/ml)</text>
<text x="407.50" y="284.80" font-size="8.00" textLength="50.40" lengthAdjust="spacingAndGlyphs" >Kruskal-Wallis,</text>
<text x="407.50" y="294.20" font-size="8.00" font-style="italic" >P</text>
<text x="414.40" y="294.20" font-size="8.00" textLength="35.70" lengthAdjust="spacingAndGlyphs" >= 3.0 × 10</text>
<text x="450.80" y="290.20" font-size="6.37" textLength="5.80" lengthAdjust="spacingAndGlyphs" >−4</text>
<path d="M473.75,291 L473.75,288.75 L501.5,288.75 L501.5,291" fill="none" stroke="#444" stroke-width="0.9" />
<text x="487.75" y="286.60" font-size="7.60" text-anchor="middle" textLength="8.50" lengthAdjust="spacingAndGlyphs" >ns</text>
<line x1="418.60" y1="329.70" x2="418.60" y2="370.50" stroke="#333" stroke-width="0.9" />
<rect x="408.30" y="334.10" width="20.60" height="20.20" fill="#7ba3cb" stroke="#34506e" stroke-width="0.7"/>
<rect x="408.60" y="335.50" width="20.00" height="1.80" fill="#9fbddb" />
<line x1="408.60" y1="338.20" x2="428.60" y2="338.20" stroke="#2c3e55" stroke-width="1.3" />
<circle cx="420.00" cy="329.70" r="1.50" fill="#1a4a86" />
<circle cx="417.50" cy="338.60" r="1.50" fill="#1a4a86" />
<circle cx="418.60" cy="370.50" r="1.50" fill="#1a4a86" />
<line x1="446.20" y1="325.40" x2="446.20" y2="345.00" stroke="#333" stroke-width="0.9" />
<rect x="436.10" y="325.40" width="20.40" height="8.10" fill="#c8f0c2" stroke="#4a5a4a" stroke-width="0.7"/>
<line x1="436.40" y1="328.10" x2="456.20" y2="328.10" stroke="#3a4a3a" stroke-width="1.0" />
<circle cx="446.20" cy="324.20" r="1.50" fill="#3cbf3c" />
<circle cx="444.50" cy="326.50" r="1.50" fill="#3cbf3c" />
<circle cx="447.60" cy="327.00" r="1.50" fill="#3cbf3c" />
<circle cx="446.60" cy="328.50" r="1.50" fill="#3cbf3c" />
<circle cx="446.00" cy="335.80" r="1.50" fill="#3cbf3c" />
<circle cx="446.20" cy="345.00" r="1.50" fill="#3cbf3c" />
<line x1="473.75" y1="291.90" x2="473.75" y2="343.10" stroke="#333" stroke-width="0.9" />
<rect x="463.50" y="309.75" width="21.25" height="10.85" fill="#a98abb" stroke="#4a3a5a" stroke-width="0.7"/>
<rect x="463.80" y="312.00" width="20.60" height="1.60" fill="#c4addb" />
<line x1="463.80" y1="316.25" x2="484.50" y2="316.25" stroke="#3a2a4a" stroke-width="1.3" />
<circle cx="473.61" cy="291.90" r="1.80" fill="#5a1a7a" />
<circle cx="473.93" cy="293.80" r="1.80" fill="#5a1a7a" />
<circle cx="475.02" cy="295.50" r="1.80" fill="#5a1a7a" />
<circle cx="473.65" cy="297.20" r="1.80" fill="#5a1a7a" />
<circle cx="473.77" cy="299.00" r="1.80" fill="#5a1a7a" />
<circle cx="474.01" cy="300.80" r="1.80" fill="#5a1a7a" />
<circle cx="472.80" cy="302.50" r="1.80" fill="#5a1a7a" />
<circle cx="473.79" cy="304.00" r="1.80" fill="#5a1a7a" />
<circle cx="474.14" cy="305.50" r="1.80" fill="#5a1a7a" />
<circle cx="474.63" cy="307.00" r="1.80" fill="#5a1a7a" />
<circle cx="472.53" cy="308.50" r="1.80" fill="#5a1a7a" />
<circle cx="473.16" cy="310.00" r="1.80" fill="#5a1a7a" />
<circle cx="472.52" cy="311.50" r="1.80" fill="#5a1a7a" />
<circle cx="474.68" cy="312.50" r="1.80" fill="#5a1a7a" />
<circle cx="474.33" cy="313.50" r="1.80" fill="#5a1a7a" />
<circle cx="472.38" cy="314.50" r="1.80" fill="#5a1a7a" />
<circle cx="475.20" cy="315.50" r="1.80" fill="#5a1a7a" />
<circle cx="475.14" cy="316.50" r="1.80" fill="#5a1a7a" />
<circle cx="474.21" cy="317.50" r="1.80" fill="#5a1a7a" />
<circle cx="474.10" cy="318.50" r="1.80" fill="#5a1a7a" />
<circle cx="472.72" cy="319.50" r="1.80" fill="#5a1a7a" />
<circle cx="472.30" cy="320.50" r="1.80" fill="#5a1a7a" />
<circle cx="473.84" cy="321.50" r="1.80" fill="#5a1a7a" />
<circle cx="472.43" cy="322.50" r="1.80" fill="#5a1a7a" />
<circle cx="472.82" cy="323.50" r="1.80" fill="#5a1a7a" />
<circle cx="472.98" cy="325.00" r="1.80" fill="#5a1a7a" />
<circle cx="472.34" cy="326.50" r="1.80" fill="#5a1a7a" />
<circle cx="473.64" cy="328.00" r="1.80" fill="#5a1a7a" />
<circle cx="473.57" cy="329.50" r="1.80" fill="#5a1a7a" />
<circle cx="474.78" cy="331.00" r="1.80" fill="#5a1a7a" />
<circle cx="473.81" cy="332.50" r="1.80" fill="#5a1a7a" />
<circle cx="474.17" cy="335.60" r="1.80" fill="#5a1a7a" />
<circle cx="473.75" cy="339.40" r="1.80" fill="#5a1a7a" />
<circle cx="474.24" cy="343.10" r="1.80" fill="#5a1a7a" />
<circle cx="473.62" cy="363.75" r="1.80" fill="#5a1a7a" />
<circle cx="473.08" cy="370.25" r="1.80" fill="#5a1a7a" />
<circle cx="471.95" cy="316.00" r="1.60" fill="#5a1a7a" />
<circle cx="475.55" cy="317.50" r="1.60" fill="#5a1a7a" />
<circle cx="472.15" cy="319.50" r="1.60" fill="#5a1a7a" />
<circle cx="475.35" cy="314.50" r="1.60" fill="#5a1a7a" />
<circle cx="472.25" cy="321.00" r="1.60" fill="#5a1a7a" />
<line x1="501.50" y1="292.50" x2="501.50" y2="341.25" stroke="#333" stroke-width="0.9" />
<rect x="491.50" y="301.90" width="20.75" height="17.50" fill="#e9919f" stroke="#5a3a40" stroke-width="0.7"/>
<line x1="491.80" y1="314.40" x2="512.00" y2="314.40" stroke="#3a2020" stroke-width="1.3" />
<circle cx="500.83" cy="292.50" r="1.80" fill="#d0102a" />
<circle cx="502.02" cy="297.50" r="1.80" fill="#d0102a" />
<circle cx="502.02" cy="299.50" r="1.80" fill="#d0102a" />
<circle cx="502.48" cy="301.00" r="1.80" fill="#d0102a" />
<circle cx="500.62" cy="302.50" r="1.80" fill="#d0102a" />
<circle cx="500.75" cy="304.00" r="1.80" fill="#d0102a" />
<circle cx="500.51" cy="305.50" r="1.80" fill="#d0102a" />
<circle cx="500.73" cy="307.00" r="1.80" fill="#d0102a" />
<circle cx="502.16" cy="308.50" r="1.80" fill="#d0102a" />
<circle cx="500.46" cy="310.00" r="1.80" fill="#d0102a" />
<circle cx="501.59" cy="313.00" r="1.80" fill="#d0102a" />
<circle cx="500.70" cy="314.50" r="1.80" fill="#d0102a" />
<circle cx="500.93" cy="315.50" r="1.80" fill="#d0102a" />
<circle cx="501.31" cy="316.50" r="1.80" fill="#d0102a" />
<circle cx="502.45" cy="317.50" r="1.80" fill="#d0102a" />
<circle cx="501.80" cy="318.50" r="1.80" fill="#d0102a" />
<circle cx="500.14" cy="319.50" r="1.80" fill="#d0102a" />
<circle cx="500.87" cy="320.50" r="1.80" fill="#d0102a" />
<circle cx="500.51" cy="322.00" r="1.80" fill="#d0102a" />
<circle cx="502.54" cy="323.50" r="1.80" fill="#d0102a" />
<circle cx="502.37" cy="325.00" r="1.80" fill="#d0102a" />
<circle cx="502.36" cy="327.00" r="1.80" fill="#d0102a" />
<circle cx="502.41" cy="329.00" r="1.80" fill="#d0102a" />
<circle cx="502.19" cy="331.00" r="1.80" fill="#d0102a" />
<circle cx="502.76" cy="341.25" r="1.80" fill="#d0102a" />
<circle cx="502.32" cy="370.25" r="1.80" fill="#d0102a" />
<circle cx="499.70" cy="316.00" r="1.60" fill="#d0102a" />
<circle cx="503.30" cy="318.00" r="1.60" fill="#d0102a" />
<circle cx="500.30" cy="304.00" r="1.60" fill="#d0102a" />
<circle cx="502.70" cy="306.00" r="1.60" fill="#d0102a" />
<line x1="418.60" y1="374.20" x2="418.60" y2="377.00" stroke="#231f20" stroke-width="1" />
<line x1="446.20" y1="374.20" x2="446.20" y2="377.00" stroke="#231f20" stroke-width="1" />
<line x1="473.75" y1="374.20" x2="473.75" y2="377.00" stroke="#231f20" stroke-width="1" />
<line x1="501.50" y1="374.20" x2="501.50" y2="377.00" stroke="#231f20" stroke-width="1" />
<text x="401.60" y="386.30" font-size="8.00" text-anchor="end" textLength="26.60" lengthAdjust="spacingAndGlyphs" >Median</text>
<text x="418.60" y="386.30" font-size="9.44" text-anchor="middle" textLength="15.00" lengthAdjust="spacingAndGlyphs" >1.10</text>
<text x="418.60" y="396.00" font-size="8.00" text-anchor="middle" textLength="15.40" lengthAdjust="spacingAndGlyphs" >0 (3)</text>
<text x="446.20" y="386.30" font-size="9.44" text-anchor="middle" textLength="15.00" lengthAdjust="spacingAndGlyphs" >2.01</text>
<text x="446.20" y="396.00" font-size="8.00" text-anchor="middle" textLength="15.40" lengthAdjust="spacingAndGlyphs" >1 (6)</text>
<text x="473.75" y="386.30" font-size="9.44" text-anchor="middle" textLength="15.00" lengthAdjust="spacingAndGlyphs" >2.92</text>
<text x="473.75" y="396.00" font-size="8.00" text-anchor="middle" textLength="20.50" lengthAdjust="spacingAndGlyphs" >2 (53)</text>
<text x="501.50" y="386.30" font-size="9.44" text-anchor="middle" textLength="15.00" lengthAdjust="spacingAndGlyphs" >3.10</text>
<text x="501.50" y="396.00" font-size="8.00" text-anchor="middle" textLength="20.50" lengthAdjust="spacingAndGlyphs" >3 (38)</text>
<text x="457.35" y="407.50" font-size="8.40" text-anchor="middle" textLength="48.30" lengthAdjust="spacingAndGlyphs" >aaIPI score (N)</text>
<text x="7.40" y="433.90" font-size="11.60" textLength="7.70" lengthAdjust="spacingAndGlyphs" font-weight="bold" style="stroke-width:0.4px" >H</text>
<line x1="52.80" y1="439.90" x2="52.80" y2="539.00" stroke="#231f20" stroke-width="1.3" />
<line x1="52.80" y1="539.00" x2="183.40" y2="539.00" stroke="#231f20" stroke-width="1.3" />
<line x1="50.10" y1="444.20" x2="52.80" y2="444.20" stroke="#231f20" stroke-width="1" />
<text x="46.90" y="447.00" font-size="10.15" text-anchor="end" textLength="15.10" lengthAdjust="spacingAndGlyphs" >1.00</text>
<line x1="50.10" y1="466.72" x2="52.80" y2="466.72" stroke="#231f20" stroke-width="1" />
<text x="46.90" y="469.52" font-size="10.15" text-anchor="end" textLength="15.10" lengthAdjust="spacingAndGlyphs" >0.75</text>
<line x1="50.10" y1="489.25" x2="52.80" y2="489.25" stroke="#231f20" stroke-width="1" />
<text x="46.90" y="492.05" font-size="10.15" text-anchor="end" textLength="15.10" lengthAdjust="spacingAndGlyphs" >0.50</text>
<line x1="50.10" y1="511.77" x2="52.80" y2="511.77" stroke="#231f20" stroke-width="1" />
<text x="46.90" y="514.57" font-size="10.15" text-anchor="end" textLength="15.10" lengthAdjust="spacingAndGlyphs" >0.25</text>
<line x1="50.10" y1="534.30" x2="52.80" y2="534.30" stroke="#231f20" stroke-width="1" />
<text x="46.90" y="537.10" font-size="10.15" text-anchor="end" textLength="15.10" lengthAdjust="spacingAndGlyphs" >0.00</text>
<line x1="58.80" y1="539.00" x2="58.80" y2="542.30" stroke="#231f20" stroke-width="1" />
<text x="58.80" y="551.20" font-size="9.91" text-anchor="middle" textLength="4.60" lengthAdjust="spacingAndGlyphs" >0</text>
<line x1="88.66" y1="539.00" x2="88.66" y2="542.30" stroke="#231f20" stroke-width="1" />
<text x="88.66" y="551.20" font-size="9.91" text-anchor="middle" textLength="9.40" lengthAdjust="spacingAndGlyphs" >20</text>
<line x1="118.52" y1="539.00" x2="118.52" y2="542.30" stroke="#231f20" stroke-width="1" />
<text x="118.52" y="551.20" font-size="9.91" text-anchor="middle" textLength="9.40" lengthAdjust="spacingAndGlyphs" >40</text>
<line x1="148.38" y1="539.00" x2="148.38" y2="542.30" stroke="#231f20" stroke-width="1" />
<text x="148.38" y="551.20" font-size="9.91" text-anchor="middle" textLength="9.40" lengthAdjust="spacingAndGlyphs" >60</text>
<line x1="178.24" y1="539.00" x2="178.24" y2="542.30" stroke="#231f20" stroke-width="1" />
<text x="178.24" y="551.20" font-size="9.91" text-anchor="middle" textLength="9.40" lengthAdjust="spacingAndGlyphs" >80</text>
<text x="118.85" y="563.20" font-size="8.80" text-anchor="middle" textLength="82.30" lengthAdjust="spacingAndGlyphs" >Overall survival (months)</text>
<text x="25.80" y="489.10" font-size="8.40" text-anchor="middle" textLength="64.60" lengthAdjust="spacingAndGlyphs" transform="rotate(-90 25.80 489.10)" >Survival probability</text>
<path d="M59.00,444.10 L67.10,444.10 L67.10,445.40 L73.80,445.40 L73.80,446.30 L95.40,446.30 L95.40,447.40 L102.80,447.40 L102.80,449.00 L108.80,449.00 L108.80,450.80 L110.50,450.80 L110.50,452.10 L114.00,452.10 L114.00,453.80 L152.70,453.80 L152.70,456.20 L185.00,456.20" fill="none" stroke="#1a5592" stroke-width="1.15" />
<path d="M66.40,444.40 L66.40,447.40 L71.80,447.40 L71.80,450.80 L80.80,450.80 L80.80,454.80 L82.60,454.80 L82.60,458.50 L86.00,458.50 L86.00,462.20 L87.30,462.20 L87.30,465.60 L93.40,465.60 L93.40,469.60 L94.70,469.60 L94.70,473.00 L103.60,473.00 L103.60,476.60 L186.10,476.60" fill="none" stroke="#c8102e" stroke-width="1.15" />
<line x1="116.00" y1="452.20" x2="116.00" y2="455.40" stroke="#1a5592" stroke-width="0.7" />
<line x1="124.00" y1="452.20" x2="124.00" y2="455.40" stroke="#1a5592" stroke-width="0.7" />
<line x1="126.00" y1="452.20" x2="126.00" y2="455.40" stroke="#1a5592" stroke-width="0.7" />
<line x1="128.00" y1="452.20" x2="128.00" y2="455.40" stroke="#1a5592" stroke-width="0.7" />
<line x1="130.00" y1="452.20" x2="130.00" y2="455.40" stroke="#1a5592" stroke-width="0.7" />
<line x1="132.00" y1="452.20" x2="132.00" y2="455.40" stroke="#1a5592" stroke-width="0.7" />
<line x1="134.00" y1="452.20" x2="134.00" y2="455.40" stroke="#1a5592" stroke-width="0.7" />
<line x1="136.00" y1="452.20" x2="136.00" y2="455.40" stroke="#1a5592" stroke-width="0.7" />
<line x1="138.00" y1="452.20" x2="138.00" y2="455.40" stroke="#1a5592" stroke-width="0.7" />
<line x1="140.00" y1="452.20" x2="140.00" y2="455.40" stroke="#1a5592" stroke-width="0.7" />
<line x1="142.00" y1="452.20" x2="142.00" y2="455.40" stroke="#1a5592" stroke-width="0.7" />
<line x1="144.00" y1="452.20" x2="144.00" y2="455.40" stroke="#1a5592" stroke-width="0.7" />
<line x1="146.00" y1="452.20" x2="146.00" y2="455.40" stroke="#1a5592" stroke-width="0.7" />
<line x1="148.00" y1="452.20" x2="148.00" y2="455.40" stroke="#1a5592" stroke-width="0.7" />
<line x1="150.00" y1="452.20" x2="150.00" y2="455.40" stroke="#1a5592" stroke-width="0.7" />
<line x1="154.00" y1="454.60" x2="154.00" y2="457.80" stroke="#1a5592" stroke-width="0.7" />
<line x1="156.00" y1="454.60" x2="156.00" y2="457.80" stroke="#1a5592" stroke-width="0.7" />
<line x1="158.00" y1="454.60" x2="158.00" y2="457.80" stroke="#1a5592" stroke-width="0.7" />
<line x1="160.00" y1="454.60" x2="160.00" y2="457.80" stroke="#1a5592" stroke-width="0.7" />
<line x1="170.00" y1="454.60" x2="170.00" y2="457.80" stroke="#1a5592" stroke-width="0.7" />
<line x1="175.00" y1="454.60" x2="175.00" y2="457.80" stroke="#1a5592" stroke-width="0.7" />
<line x1="177.00" y1="454.60" x2="177.00" y2="457.80" stroke="#1a5592" stroke-width="0.7" />
<line x1="179.00" y1="454.60" x2="179.00" y2="457.80" stroke="#1a5592" stroke-width="0.7" />
<line x1="181.00" y1="454.60" x2="181.00" y2="457.80" stroke="#1a5592" stroke-width="0.7" />
<line x1="184.00" y1="454.60" x2="184.00" y2="457.80" stroke="#1a5592" stroke-width="0.7" />
<line x1="122.70" y1="475.00" x2="122.70" y2="478.20" stroke="#c8102e" stroke-width="0.7" />
<line x1="125.00" y1="475.00" x2="125.00" y2="478.20" stroke="#c8102e" stroke-width="0.7" />
<line x1="126.50" y1="475.00" x2="126.50" y2="478.20" stroke="#c8102e" stroke-width="0.7" />
<line x1="128.00" y1="475.00" x2="128.00" y2="478.20" stroke="#c8102e" stroke-width="0.7" />
<line x1="129.50" y1="475.00" x2="129.50" y2="478.20" stroke="#c8102e" stroke-width="0.7" />
<line x1="137.80" y1="475.00" x2="137.80" y2="478.20" stroke="#c8102e" stroke-width="0.7" />
<line x1="144.80" y1="475.00" x2="144.80" y2="478.20" stroke="#c8102e" stroke-width="0.7" />
<line x1="148.00" y1="475.00" x2="148.00" y2="478.20" stroke="#c8102e" stroke-width="0.7" />
<line x1="155.80" y1="475.00" x2="155.80" y2="478.20" stroke="#c8102e" stroke-width="0.7" />
<line x1="157.50" y1="475.00" x2="157.50" y2="478.20" stroke="#c8102e" stroke-width="0.7" />
<line x1="170.40" y1="475.00" x2="170.40" y2="478.20" stroke="#c8102e" stroke-width="0.7" />
<line x1="185.00" y1="475.00" x2="185.00" y2="478.20" stroke="#c8102e" stroke-width="0.7" />
<text x="65.70" y="498.70" font-size="8.40" textLength="100.80" lengthAdjust="spacingAndGlyphs" >Pretreatment ctDNA burden</text>
<line x1="65.40" y1="506.90" x2="71.90" y2="506.90" stroke="#c8102e" stroke-width="1.2" />
<line x1="68.60" y1="505.60" x2="68.60" y2="508.20" stroke="#c8102e" stroke-width="0.7" />
<text x="74.30" y="509.80" font-size="8.00" textLength="81.30" lengthAdjust="spacingAndGlyphs" >High (>3.75 log hGE/ml)</text>
<line x1="65.40" y1="515.70" x2="71.90" y2="515.70" stroke="#1a5592" stroke-width="1.2" />
<line x1="68.60" y1="514.40" x2="68.60" y2="517.00" stroke="#1a5592" stroke-width="0.7" />
<text x="74.30" y="518.50" font-size="8.00" textLength="27.30" lengthAdjust="spacingAndGlyphs" >Low/ND</text>
<text x="130.60" y="528.20" font-size="8.40" font-style="italic" >P</text>
<text x="137.80" y="528.20" font-size="8.40" textLength="30.80" lengthAdjust="spacingAndGlyphs" >= 0.0024</text>
<text x="52.90" y="579.50" font-size="8.00" textLength="55.50" lengthAdjust="spacingAndGlyphs" >Number at risk</text>
<line x1="52.90" y1="583.80" x2="52.90" y2="608.20" stroke="#231f20" stroke-width="1.3" />
<line x1="52.90" y1="608.20" x2="183.00" y2="608.20" stroke="#231f20" stroke-width="1.3" />
<line x1="50.10" y1="589.00" x2="52.90" y2="589.00" stroke="#231f20" stroke-width="1" />
<line x1="50.10" y1="603.40" x2="52.90" y2="603.40" stroke="#231f20" stroke-width="1" />
<text x="46.70" y="591.90" font-size="8.20" text-anchor="end" textLength="15.90" lengthAdjust="spacingAndGlyphs" >High</text>
<text x="46.70" y="606.30" font-size="8.20" text-anchor="end" textLength="28.90" lengthAdjust="spacingAndGlyphs" >Low/ND</text>
<text x="59.80" y="591.90" font-size="9.68" text-anchor="middle" textLength="8.80" lengthAdjust="spacingAndGlyphs" >25</text>
<text x="59.80" y="606.30" font-size="9.68" text-anchor="middle" textLength="8.80" lengthAdjust="spacingAndGlyphs" >75</text>
<line x1="58.80" y1="608.20" x2="58.80" y2="611.20" stroke="#231f20" stroke-width="1" />
<text x="58.80" y="621.00" font-size="9.68" text-anchor="middle" textLength="4.60" lengthAdjust="spacingAndGlyphs" >0</text>
<text x="89.16" y="591.90" font-size="9.68" text-anchor="middle" textLength="8.80" lengthAdjust="spacingAndGlyphs" >19</text>
<text x="89.16" y="606.30" font-size="9.68" text-anchor="middle" textLength="8.80" lengthAdjust="spacingAndGlyphs" >73</text>
<line x1="88.66" y1="608.20" x2="88.66" y2="611.20" stroke="#231f20" stroke-width="1" />
<text x="88.66" y="621.00" font-size="9.68" text-anchor="middle" textLength="9.20" lengthAdjust="spacingAndGlyphs" >20</text>
<text x="119.02" y="591.90" font-size="9.68" text-anchor="middle" textLength="8.80" lengthAdjust="spacingAndGlyphs" >16</text>
<text x="119.02" y="606.30" font-size="9.68" text-anchor="middle" textLength="8.80" lengthAdjust="spacingAndGlyphs" >67</text>
<line x1="118.52" y1="608.20" x2="118.52" y2="611.20" stroke="#231f20" stroke-width="1" />
<text x="118.52" y="621.00" font-size="9.68" text-anchor="middle" textLength="9.20" lengthAdjust="spacingAndGlyphs" >40</text>
<text x="148.88" y="591.90" font-size="9.68" text-anchor="middle" textLength="4.40" lengthAdjust="spacingAndGlyphs" >8</text>
<text x="148.88" y="606.30" font-size="9.68" text-anchor="middle" textLength="8.80" lengthAdjust="spacingAndGlyphs" >40</text>
<line x1="148.38" y1="608.20" x2="148.38" y2="611.20" stroke="#231f20" stroke-width="1" />
<text x="148.38" y="621.00" font-size="9.68" text-anchor="middle" textLength="9.20" lengthAdjust="spacingAndGlyphs" >60</text>
<text x="178.74" y="591.90" font-size="9.68" text-anchor="middle" textLength="4.40" lengthAdjust="spacingAndGlyphs" >1</text>
<text x="178.74" y="606.30" font-size="9.68" text-anchor="middle" textLength="4.40" lengthAdjust="spacingAndGlyphs" >5</text>
<line x1="178.24" y1="608.20" x2="178.24" y2="611.20" stroke="#231f20" stroke-width="1" />
<text x="178.24" y="621.00" font-size="9.68" text-anchor="middle" textLength="9.20" lengthAdjust="spacingAndGlyphs" >80</text>
<text x="208.70" y="434.00" font-size="11.60" textLength="2.60" lengthAdjust="spacingAndGlyphs" font-weight="bold" style="stroke-width:0.4px" >I</text>
<text x="208.20" y="447.50" font-size="9.60" textLength="122.00" lengthAdjust="spacingAndGlyphs" >Univariate for ctDNA burden</text>
<text x="208.20" y="458.30" font-size="9.60" textLength="37.60" lengthAdjust="spacingAndGlyphs" >Endpoint</text>
<text x="307.20" y="458.10" font-size="9.60" font-style="italic" >P</text>
<text x="316.00" y="458.10" font-size="9.60" textLength="21.40" lengthAdjust="spacingAndGlyphs" >value</text>
<line x1="206.40" y1="462.30" x2="336.60" y2="462.30" stroke="#333" stroke-width="1.3" />
<line x1="276.40" y1="462.30" x2="276.40" y2="510.20" stroke="#231f20" stroke-width="1.3" />
<line x1="276.40" y1="510.20" x2="302.90" y2="510.20" stroke="#231f20" stroke-width="1.3" />
<line x1="276.60" y1="510.20" x2="276.60" y2="513.00" stroke="#231f20" stroke-width="0.9" />
<line x1="288.30" y1="510.20" x2="288.30" y2="513.00" stroke="#231f20" stroke-width="0.9" />
<line x1="300.40" y1="510.20" x2="300.40" y2="513.00" stroke="#231f20" stroke-width="0.9" />
<text x="273.60" y="522.00" font-size="8.73" text-anchor="middle" textLength="9.50" lengthAdjust="spacingAndGlyphs" >1.0</text>
<text x="288.30" y="522.00" font-size="8.73" text-anchor="middle" textLength="9.50" lengthAdjust="spacingAndGlyphs" >2.0</text>
<text x="302.10" y="522.00" font-size="8.73" text-anchor="middle" textLength="9.50" lengthAdjust="spacingAndGlyphs" >4.0</text>
<text x="207.60" y="472.90" font-size="7.50" textLength="38.80" lengthAdjust="spacingAndGlyphs" >Death (OS)</text>
<line x1="280.40" y1="470.20" x2="299.40" y2="470.20" stroke="#222" stroke-width="0.9" />
<line x1="280.40" y1="468.90" x2="280.40" y2="471.50" stroke="#222" stroke-width="0.8" />
<line x1="299.40" y1="468.90" x2="299.40" y2="471.50" stroke="#222" stroke-width="0.8" />
<circle cx="289.90" cy="470.20" r="2.90" fill="#d10f2f" />
<text x="311.50" y="473.00" font-size="9.68" textLength="19.90" lengthAdjust="spacingAndGlyphs" >0.004*</text>
<text x="207.60" y="484.30" font-size="7.50" textLength="61.50" lengthAdjust="spacingAndGlyphs" >Progression (PFS)</text>
<line x1="280.40" y1="481.60" x2="297.30" y2="481.60" stroke="#222" stroke-width="0.9" />
<line x1="280.40" y1="480.30" x2="280.40" y2="482.90" stroke="#222" stroke-width="0.8" />
<line x1="297.30" y1="480.30" x2="297.30" y2="482.90" stroke="#222" stroke-width="0.8" />
<circle cx="288.70" cy="481.60" r="2.90" fill="#d10f2f" />
<text x="311.50" y="484.40" font-size="9.68" textLength="18.00" lengthAdjust="spacingAndGlyphs" >0.003</text>
<text x="207.60" y="495.30" font-size="7.50" textLength="60.30" lengthAdjust="spacingAndGlyphs" >Recurrence (RFS)</text>
<line x1="281.80" y1="492.60" x2="300.80" y2="492.60" stroke="#222" stroke-width="0.9" />
<line x1="281.80" y1="491.30" x2="281.80" y2="493.90" stroke="#222" stroke-width="0.8" />
<line x1="300.80" y1="491.30" x2="300.80" y2="493.90" stroke="#222" stroke-width="0.8" />
<circle cx="290.80" cy="492.60" r="2.90" fill="#d10f2f" />
<text x="311.50" y="495.40" font-size="9.68" textLength="18.00" lengthAdjust="spacingAndGlyphs" >0.002</text>
<text x="207.60" y="507.00" font-size="7.50" textLength="43.40" lengthAdjust="spacingAndGlyphs" >Failure (FFS)</text>
<line x1="278.30" y1="504.30" x2="293.40" y2="504.30" stroke="#222" stroke-width="0.9" />
<line x1="278.30" y1="503.00" x2="278.30" y2="505.60" stroke="#222" stroke-width="0.8" />
<line x1="293.40" y1="503.00" x2="293.40" y2="505.60" stroke="#222" stroke-width="0.8" />
<circle cx="285.90" cy="504.30" r="2.90" fill="#d10f2f" />
<text x="311.50" y="507.10" font-size="9.68" textLength="18.00" lengthAdjust="spacingAndGlyphs" >0.009</text>
<text x="206.20" y="548.60" font-size="11.60" textLength="5.20" lengthAdjust="spacingAndGlyphs" font-weight="bold" style="stroke-width:0.4px" >J</text>
<text x="206.20" y="562.50" font-size="9.60" textLength="132.50" lengthAdjust="spacingAndGlyphs" >Univariate (OS) for ctDNA burden</text>
<text x="206.20" y="573.30" font-size="9.60" textLength="38.50" lengthAdjust="spacingAndGlyphs" >Subgroup</text>
<text x="253.00" y="573.60" font-size="9.60" textLength="7.40" lengthAdjust="spacingAndGlyphs" >N</text>
<text x="308.40" y="574.20" font-size="9.60" font-style="italic" >P</text>
<text x="317.00" y="574.20" font-size="9.60" textLength="21.70" lengthAdjust="spacingAndGlyphs" >value</text>
<line x1="208.00" y1="578.30" x2="336.10" y2="578.30" stroke="#333" stroke-width="1.3" />
<line x1="267.80" y1="578.30" x2="267.80" y2="615.60" stroke="#231f20" stroke-width="1.3" />
<line x1="267.80" y1="615.60" x2="304.00" y2="615.60" stroke="#231f20" stroke-width="1.3" />
<line x1="267.80" y1="615.60" x2="267.80" y2="618.30" stroke="#231f20" stroke-width="0.9" />
<line x1="277.50" y1="615.60" x2="277.50" y2="618.30" stroke="#231f20" stroke-width="0.9" />
<line x1="290.20" y1="615.60" x2="290.20" y2="618.30" stroke="#231f20" stroke-width="0.9" />
<line x1="301.10" y1="615.60" x2="301.10" y2="618.30" stroke="#231f20" stroke-width="0.9" />
<text x="267.80" y="628.20" font-size="8.73" text-anchor="middle" textLength="10.00" lengthAdjust="spacingAndGlyphs" >1.0</text>
<text x="290.70" y="628.20" font-size="8.73" text-anchor="middle" textLength="10.00" lengthAdjust="spacingAndGlyphs" >5.0</text>
<text x="208.00" y="589.10" font-size="7.50" textLength="30.50" lengthAdjust="spacingAndGlyphs" >Stage IV</text>
<text x="253.00" y="589.20" font-size="9.68" textLength="8.60" lengthAdjust="spacingAndGlyphs" >79</text>
<line x1="269.50" y1="586.40" x2="287.70" y2="586.40" stroke="#222" stroke-width="0.9" />
<line x1="269.50" y1="585.10" x2="269.50" y2="587.70" stroke="#222" stroke-width="0.8" />
<line x1="287.70" y1="585.10" x2="287.70" y2="587.70" stroke="#222" stroke-width="0.8" />
<circle cx="278.70" cy="586.40" r="2.90" fill="#d10f2f" />
<text x="312.80" y="589.20" font-size="9.68" textLength="18.50" lengthAdjust="spacingAndGlyphs" >0.017</text>
<text x="208.00" y="600.10" font-size="7.50" textLength="33.00" lengthAdjust="spacingAndGlyphs" >aaIPI ≥ 2</text>
<text x="253.00" y="600.20" font-size="9.68" textLength="8.60" lengthAdjust="spacingAndGlyphs" >91</text>
<line x1="269.50" y1="597.40" x2="285.60" y2="597.40" stroke="#222" stroke-width="0.9" />
<line x1="269.50" y1="596.10" x2="269.50" y2="598.70" stroke="#222" stroke-width="0.8" />
<line x1="285.60" y1="596.10" x2="285.60" y2="598.70" stroke="#222" stroke-width="0.8" />
<circle cx="277.60" cy="597.40" r="2.90" fill="#d10f2f" />
<text x="312.80" y="600.20" font-size="9.68" textLength="20.80" lengthAdjust="spacingAndGlyphs" >0.011*</text>
<text x="208.00" y="611.40" font-size="7.50" textLength="32.50" lengthAdjust="spacingAndGlyphs" >aaIPI = 3</text>
<text x="253.00" y="611.50" font-size="9.68" textLength="8.60" lengthAdjust="spacingAndGlyphs" >38</text>
<line x1="274.70" y1="608.70" x2="301.20" y2="608.70" stroke="#222" stroke-width="0.9" />
<line x1="274.70" y1="607.40" x2="274.70" y2="610.00" stroke="#222" stroke-width="0.8" />
<path d="M298.20,606.70 L302.20,608.70 L298.20,610.70 Z" fill="#111" stroke="none" stroke-width="1" />
<circle cx="294.30" cy="608.70" r="2.90" fill="#d10f2f" />
<text x="312.80" y="611.50" font-size="9.68" textLength="18.50" lengthAdjust="spacingAndGlyphs" >0.007</text>
<text x="370.10" y="434.30" font-size="11.60" textLength="8.00" lengthAdjust="spacingAndGlyphs" font-weight="bold" style="stroke-width:0.4px" >K</text>
<text x="369.60" y="459.20" font-size="9.60" textLength="85.50" lengthAdjust="spacingAndGlyphs" >Multivariable for OS</text>
<text x="482.80" y="458.20" font-size="9.60" font-style="italic" >P</text>
<text x="491.60" y="458.20" font-size="9.60" textLength="21.10" lengthAdjust="spacingAndGlyphs" >value</text>
<line x1="368.50" y1="462.40" x2="504.40" y2="462.40" stroke="#333" stroke-width="1.3" />
<line x1="455.10" y1="462.40" x2="455.10" y2="500.90" stroke="#231f20" stroke-width="1.3" />
<line x1="439.50" y1="500.90" x2="475.80" y2="500.90" stroke="#231f20" stroke-width="1.3" />
<line x1="443.50" y1="500.90" x2="443.50" y2="503.50" stroke="#231f20" stroke-width="0.9" />
<line x1="455.10" y1="500.90" x2="455.10" y2="503.50" stroke="#231f20" stroke-width="0.9" />
<line x1="471.50" y1="500.90" x2="471.50" y2="503.50" stroke="#231f20" stroke-width="0.9" />
<text x="439.50" y="513.40" font-size="9.44" text-anchor="middle" textLength="15.00" lengthAdjust="spacingAndGlyphs" >0.40</text>
<text x="455.10" y="513.40" font-size="8.73" text-anchor="middle" textLength="10.00" lengthAdjust="spacingAndGlyphs" >1.0</text>
<text x="471.50" y="513.40" font-size="8.73" text-anchor="middle" textLength="10.00" lengthAdjust="spacingAndGlyphs" >4.0</text>
<text x="371.60" y="472.30" font-size="7.50" textLength="17.50" lengthAdjust="spacingAndGlyphs" >aaIPI</text>
<line x1="437.30" y1="469.50" x2="468.90" y2="469.50" stroke="#222" stroke-width="0.9" />
<line x1="437.30" y1="468.20" x2="437.30" y2="470.80" stroke="#222" stroke-width="0.8" />
<line x1="468.90" y1="468.20" x2="468.90" y2="470.80" stroke="#222" stroke-width="0.8" />
<circle cx="452.80" cy="469.50" r="2.90" fill="#1a5a96" />
<text x="488.00" y="472.30" font-size="9.68" textLength="19.90" lengthAdjust="spacingAndGlyphs" >0.814</text>
<text x="371.60" y="483.60" font-size="7.50" textLength="34.50" lengthAdjust="spacingAndGlyphs" >MTV (log)</text>
<line x1="444.70" y1="480.80" x2="476.70" y2="480.80" stroke="#222" stroke-width="0.9" />
<line x1="444.70" y1="479.50" x2="444.70" y2="482.10" stroke="#222" stroke-width="0.8" />
<path d="M473.50,478.80 L477.50,480.80 L473.50,482.80 Z" fill="#111" stroke="none" stroke-width="1" />
<circle cx="462.00" cy="480.80" r="2.90" fill="#1a5a96" />
<text x="488.00" y="483.60" font-size="9.68" textLength="19.90" lengthAdjust="spacingAndGlyphs" >0.431</text>
<text x="371.60" y="494.60" font-size="7.50" textLength="71.60" lengthAdjust="spacingAndGlyphs" >ctDNA (log hGE/ml)</text>
<line x1="455.60" y1="491.80" x2="476.70" y2="491.80" stroke="#222" stroke-width="0.9" />
<line x1="455.60" y1="490.50" x2="455.60" y2="493.10" stroke="#222" stroke-width="0.8" />
<path d="M473.50,489.80 L477.50,491.80 L473.50,493.80 Z" fill="#111" stroke="none" stroke-width="1" />
<circle cx="466.30" cy="491.80" r="2.90" fill="#d10f2f" />
<text x="488.00" y="494.60" font-size="9.68" textLength="19.90" lengthAdjust="spacingAndGlyphs" >0.032</text>
<text x="370.10" y="548.90" font-size="11.60" textLength="6.00" lengthAdjust="spacingAndGlyphs" font-weight="bold" style="stroke-width:0.4px" >L</text>
<line x1="405.90" y1="554.50" x2="405.90" y2="625.40" stroke="#231f20" stroke-width="1.3" />
<line x1="405.90" y1="625.60" x2="501.00" y2="625.60" stroke="#231f20" stroke-width="1.3" />
<line x1="403.20" y1="557.60" x2="405.90" y2="557.60" stroke="#231f20" stroke-width="1" />
<text x="399.40" y="560.40" font-size="10.15" text-anchor="end" textLength="14.30" lengthAdjust="spacingAndGlyphs" >1.00</text>
<line x1="403.20" y1="573.90" x2="405.90" y2="573.90" stroke="#231f20" stroke-width="1" />
<text x="399.40" y="576.70" font-size="10.15" text-anchor="end" textLength="14.30" lengthAdjust="spacingAndGlyphs" >0.75</text>
<line x1="403.20" y1="590.20" x2="405.90" y2="590.20" stroke="#231f20" stroke-width="1" />
<text x="399.40" y="593.00" font-size="10.15" text-anchor="end" textLength="14.30" lengthAdjust="spacingAndGlyphs" >0.50</text>
<line x1="403.20" y1="606.50" x2="405.90" y2="606.50" stroke="#231f20" stroke-width="1" />
<text x="399.40" y="609.30" font-size="10.15" text-anchor="end" textLength="14.30" lengthAdjust="spacingAndGlyphs" >0.25</text>
<line x1="403.20" y1="622.80" x2="405.90" y2="622.80" stroke="#231f20" stroke-width="1" />
<text x="399.40" y="625.60" font-size="10.15" text-anchor="end" textLength="14.30" lengthAdjust="spacingAndGlyphs" >0.00</text>
<line x1="410.50" y1="625.40" x2="410.50" y2="628.40" stroke="#231f20" stroke-width="1" />
<text x="410.50" y="638.00" font-size="9.91" text-anchor="middle" textLength="4.60" lengthAdjust="spacingAndGlyphs" >0</text>
<line x1="432.04" y1="625.40" x2="432.04" y2="628.40" stroke="#231f20" stroke-width="1" />
<text x="432.04" y="638.00" font-size="9.91" text-anchor="middle" textLength="9.00" lengthAdjust="spacingAndGlyphs" >20</text>
<line x1="453.58" y1="625.40" x2="453.58" y2="628.40" stroke="#231f20" stroke-width="1" />
<text x="453.58" y="638.00" font-size="9.91" text-anchor="middle" textLength="9.00" lengthAdjust="spacingAndGlyphs" >40</text>
<line x1="475.12" y1="625.40" x2="475.12" y2="628.40" stroke="#231f20" stroke-width="1" />
<text x="475.12" y="638.00" font-size="9.91" text-anchor="middle" textLength="9.00" lengthAdjust="spacingAndGlyphs" >60</text>
<line x1="496.66" y1="625.40" x2="496.66" y2="628.40" stroke="#231f20" stroke-width="1" />
<text x="496.66" y="638.00" font-size="9.91" text-anchor="middle" textLength="9.00" lengthAdjust="spacingAndGlyphs" >80</text>
<text x="453.70" y="648.60" font-size="8.80" text-anchor="middle" textLength="96.20" lengthAdjust="spacingAndGlyphs" >Failure free survival (months)</text>
<text x="378.00" y="589.50" font-size="8.40" text-anchor="middle" textLength="64.60" lengthAdjust="spacingAndGlyphs" transform="rotate(-90 378.00 589.50)" >Survival probability</text>
<path d="M410.80,557.80 L410.80,562.60 L415.00,562.60 L415.00,565.20 L416.60,565.20 L416.60,570.80 L445.70,570.80 L445.70,573.40 L498.80,573.40" fill="none" stroke="#f59a14" stroke-width="1.3" />
<path d="M414.00,557.80 L414.00,562.60 L415.60,562.60 L415.60,565.20 L423.00,565.20 L423.00,566.80 L424.10,566.80 L424.10,568.40 L425.10,568.40 L425.10,570.50 L426.60,570.50 L426.60,572.60 L428.30,572.60 L428.30,577.40 L432.00,577.40 L432.00,579.50 L434.00,579.50 L434.00,581.30 L436.80,581.30 L436.80,583.10 L502.30,583.10" fill="none" stroke="#d4203e" stroke-width="1.3" />
<path d="M417.70,557.60 L417.70,559.90 L421.40,559.90 L421.40,559.90 L434.10,559.90 L434.10,568.10 L451.60,568.10 L451.60,570.50 L455.80,570.50 L455.80,573.00 L496.50,573.00" fill="none" stroke="#6a3598" stroke-width="1.3" />
<path d="M410.30,557.30 L421.40,557.30 L421.40,559.90 L433.60,559.90 L433.60,562.80 L479.20,562.80 L479.20,567.00 L501.10,567.00" fill="none" stroke="#1f5f9f" stroke-width="1.3" />
<line x1="461.00" y1="561.60" x2="461.00" y2="564.00" stroke="#1f5f9f" stroke-width="0.7" />
<line x1="463.00" y1="561.60" x2="463.00" y2="564.00" stroke="#1f5f9f" stroke-width="0.7" />
<line x1="466.00" y1="561.60" x2="466.00" y2="564.00" stroke="#1f5f9f" stroke-width="0.7" />
<line x1="469.00" y1="561.60" x2="469.00" y2="564.00" stroke="#1f5f9f" stroke-width="0.7" />
<line x1="471.00" y1="561.60" x2="471.00" y2="564.00" stroke="#1f5f9f" stroke-width="0.7" />
<line x1="474.00" y1="561.60" x2="474.00" y2="564.00" stroke="#1f5f9f" stroke-width="0.7" />
<line x1="476.00" y1="561.60" x2="476.00" y2="564.00" stroke="#1f5f9f" stroke-width="0.7" />
<line x1="482.00" y1="565.80" x2="482.00" y2="568.20" stroke="#1f5f9f" stroke-width="0.7" />
<line x1="485.00" y1="565.80" x2="485.00" y2="568.20" stroke="#1f5f9f" stroke-width="0.7" />
<line x1="488.00" y1="565.80" x2="488.00" y2="568.20" stroke="#1f5f9f" stroke-width="0.7" />
<line x1="492.00" y1="565.80" x2="492.00" y2="568.20" stroke="#1f5f9f" stroke-width="0.7" />
<line x1="495.00" y1="565.80" x2="495.00" y2="568.20" stroke="#1f5f9f" stroke-width="0.7" />
<line x1="499.00" y1="565.80" x2="499.00" y2="568.20" stroke="#1f5f9f" stroke-width="0.7" />
<line x1="461.00" y1="571.80" x2="461.00" y2="574.20" stroke="#6a3598" stroke-width="0.7" />
<line x1="466.00" y1="571.80" x2="466.00" y2="574.20" stroke="#6a3598" stroke-width="0.7" />
<line x1="470.00" y1="571.80" x2="470.00" y2="574.20" stroke="#6a3598" stroke-width="0.7" />
<line x1="474.00" y1="571.80" x2="474.00" y2="574.20" stroke="#6a3598" stroke-width="0.7" />
<line x1="477.00" y1="571.80" x2="477.00" y2="574.20" stroke="#6a3598" stroke-width="0.7" />
<line x1="480.00" y1="571.80" x2="480.00" y2="574.20" stroke="#6a3598" stroke-width="0.7" />
<line x1="483.00" y1="571.80" x2="483.00" y2="574.20" stroke="#6a3598" stroke-width="0.7" />
<line x1="487.00" y1="571.80" x2="487.00" y2="574.20" stroke="#6a3598" stroke-width="0.7" />
<line x1="491.00" y1="571.80" x2="491.00" y2="574.20" stroke="#6a3598" stroke-width="0.7" />
<line x1="494.00" y1="571.80" x2="494.00" y2="574.20" stroke="#6a3598" stroke-width="0.7" />
<line x1="458.00" y1="581.90" x2="458.00" y2="584.30" stroke="#d4203e" stroke-width="0.7" />
<line x1="469.00" y1="581.90" x2="469.00" y2="584.30" stroke="#d4203e" stroke-width="0.7" />
<line x1="479.00" y1="581.90" x2="479.00" y2="584.30" stroke="#d4203e" stroke-width="0.7" />
<line x1="485.00" y1="581.90" x2="485.00" y2="584.30" stroke="#d4203e" stroke-width="0.7" />
<line x1="489.00" y1="581.90" x2="489.00" y2="584.30" stroke="#d4203e" stroke-width="0.7" />
<line x1="494.00" y1="581.90" x2="494.00" y2="584.30" stroke="#d4203e" stroke-width="0.7" />
<line x1="500.00" y1="581.90" x2="500.00" y2="584.30" stroke="#d4203e" stroke-width="0.7" />
<text x="410.80" y="594.00" font-size="7.20" textLength="95.00" lengthAdjust="spacingAndGlyphs" >Pretreatment ctDNA quartile</text>
<line x1="442.40" y1="599.10" x2="448.50" y2="599.10" stroke="#d4203e" stroke-width="1.3" />
<line x1="445.40" y1="598.00" x2="445.40" y2="600.20" stroke="#d4203e" stroke-width="0.7" />
<text x="451.80" y="601.50" font-size="7.20" textLength="16.70" lengthAdjust="spacingAndGlyphs" >High</text>
<line x1="442.40" y1="606.30" x2="448.50" y2="606.30" stroke="#f59a14" stroke-width="1.3" />
<line x1="445.40" y1="605.20" x2="445.40" y2="607.40" stroke="#f59a14" stroke-width="0.7" />
<text x="451.80" y="608.70" font-size="7.20" textLength="61.50" lengthAdjust="spacingAndGlyphs" >High-intermediate</text>
<line x1="442.40" y1="613.50" x2="448.50" y2="613.50" stroke="#6a3598" stroke-width="1.3" />
<line x1="445.40" y1="612.40" x2="445.40" y2="614.60" stroke="#6a3598" stroke-width="0.7" />
<text x="451.80" y="615.90" font-size="7.20" textLength="56.50" lengthAdjust="spacingAndGlyphs" >Intermediate-low</text>
<line x1="442.40" y1="620.30" x2="448.50" y2="620.30" stroke="#1f5f9f" stroke-width="1.3" />
<line x1="445.40" y1="619.20" x2="445.40" y2="621.40" stroke="#1f5f9f" stroke-width="0.7" />
<text x="451.80" y="622.70" font-size="7.20" textLength="25.50" lengthAdjust="spacingAndGlyphs" >Low/ND</text>
<text x="408.70" y="619.90" font-size="8.60" font-style="italic" >P</text>
<text x="416.00" y="619.90" font-size="8.60" textLength="21.70" lengthAdjust="spacingAndGlyphs" >= 0.11</text>
<rect x="0.5" y="0.5" width="519" height="655" fill="none" stroke="#000" stroke-width="1"/>
</svg></body></html>
